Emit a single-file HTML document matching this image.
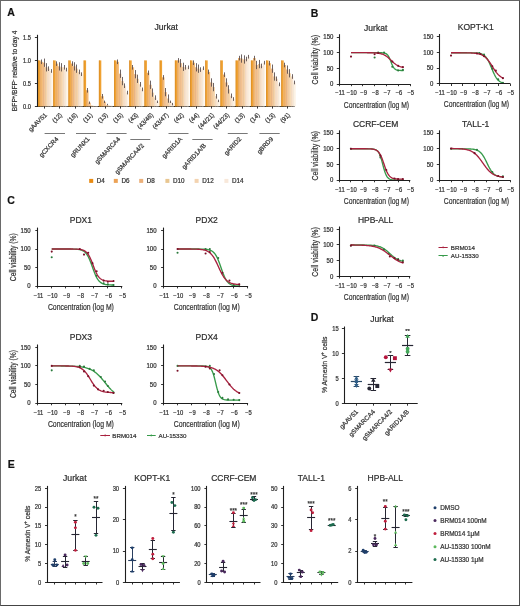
<!DOCTYPE html>
<html><head><meta charset="utf-8"><style>
html,body{margin:0;padding:0;background:#fff;}
#f{position:relative;width:520px;height:606px;overflow:hidden;background:#fff;}
svg{position:absolute;left:0;top:0;font-family:"Liberation Sans",sans-serif;will-change:transform;}
text{stroke:#333;stroke-width:0.22px;}
#b{position:absolute;left:0;top:0;width:518px;height:604px;border:1px solid;border-color:#666 #4d4d4d #444 #6a6a6a;}
</style></head><body><div id="f">
<svg width="520" height="606" viewBox="0 0 520 606">
<text x="7.30" y="15.80" font-size="10.5" text-anchor="start" font-weight="bold" fill="#111">A</text>
<text x="310.80" y="16.60" font-size="10.5" text-anchor="start" font-weight="bold" fill="#111">B</text>
<text x="7.30" y="204.00" font-size="10.5" text-anchor="start" font-weight="bold" fill="#111">C</text>
<text x="310.80" y="321.00" font-size="10.5" text-anchor="start" font-weight="bold" fill="#111">D</text>
<text x="7.80" y="467.50" font-size="10.5" text-anchor="start" font-weight="bold" fill="#111">E</text>
<text x="166.20" y="29.80" font-size="8.5" text-anchor="middle" fill="#2b2b2b" textLength="23.60" lengthAdjust="spacingAndGlyphs">Jurkat</text>
<line x1="37.50" y1="34.80" x2="37.50" y2="106.90" stroke="#1e1e1e" stroke-width="1.1"/>
<line x1="36.80" y1="106.50" x2="294.70" y2="106.50" stroke="#1e1e1e" stroke-width="1.1"/>
<line x1="34.90" y1="37.50" x2="37.30" y2="37.50" stroke="#1e1e1e" stroke-width="0.9"/>
<text x="30.90" y="39.60" font-size="6.3" text-anchor="end" fill="#333" textLength="7.88" lengthAdjust="spacingAndGlyphs">1.5</text>
<line x1="34.90" y1="60.50" x2="37.30" y2="60.50" stroke="#1e1e1e" stroke-width="0.9"/>
<text x="30.90" y="62.60" font-size="6.3" text-anchor="end" fill="#333" textLength="7.88" lengthAdjust="spacingAndGlyphs">1.0</text>
<line x1="34.90" y1="83.50" x2="37.30" y2="83.50" stroke="#1e1e1e" stroke-width="0.9"/>
<text x="30.90" y="85.60" font-size="6.3" text-anchor="end" fill="#333" textLength="7.88" lengthAdjust="spacingAndGlyphs">0.5</text>
<line x1="34.90" y1="106.50" x2="37.30" y2="106.50" stroke="#1e1e1e" stroke-width="0.9"/>
<text x="30.90" y="108.60" font-size="6.3" text-anchor="end" fill="#333" textLength="7.88" lengthAdjust="spacingAndGlyphs">0.0</text>
<text transform="translate(17.0 70.9) rotate(-90)" font-size="7.5" text-anchor="middle" fill="#333" textLength="80.5" lengthAdjust="spacingAndGlyphs">BFP<tspan font-size="4.5" dy="-2.5">+</tspan><tspan dy="2.5">/BFP</tspan><tspan font-size="4.5" dy="-2.5">-</tspan><tspan dy="2.5"> relative to day 4</tspan></text>
<rect x="38.10" y="60.40" width="2.40" height="46.00" fill="#f0a232"/>
<rect x="38.10" y="60.40" width="0.60" height="46.00" fill="#d4841a"/>
<rect x="40.50" y="61.78" width="2.40" height="44.62" fill="#f3b872"/>
<rect x="40.50" y="61.78" width="0.60" height="44.62" fill="#e09a50"/>
<rect x="42.90" y="62.70" width="2.40" height="43.70" fill="#f4c594"/>
<rect x="42.90" y="62.70" width="0.60" height="43.70" fill="#e0a878"/>
<rect x="45.30" y="67.30" width="2.40" height="39.10" fill="#f6d5ac"/>
<rect x="45.30" y="67.30" width="0.60" height="39.10" fill="#e4bc90"/>
<rect x="47.70" y="68.68" width="2.40" height="37.72" fill="#f9e4cf"/>
<rect x="47.70" y="68.68" width="0.60" height="37.72" fill="#ecd2ba"/>
<rect x="50.10" y="70.98" width="2.40" height="35.42" fill="#fdf2e4"/>
<rect x="50.10" y="70.98" width="0.60" height="35.42" fill="#f0e2d0"/>
<line x1="41.50" y1="59.48" x2="41.50" y2="64.08" stroke="#554848" stroke-width="0.85"/>
<line x1="44.50" y1="58.56" x2="44.50" y2="66.84" stroke="#554848" stroke-width="0.85"/>
<line x1="46.50" y1="63.16" x2="46.50" y2="71.44" stroke="#554848" stroke-width="0.85"/>
<line x1="48.50" y1="66.38" x2="48.50" y2="70.98" stroke="#554848" stroke-width="0.85"/>
<line x1="51.50" y1="69.14" x2="51.50" y2="72.82" stroke="#554848" stroke-width="0.85"/>
<line x1="44.50" y1="106.40" x2="44.50" y2="108.60" stroke="#1e1e1e" stroke-width="0.9"/>
<rect x="53.30" y="60.40" width="2.40" height="46.00" fill="#f0a232"/>
<rect x="53.30" y="60.40" width="0.60" height="46.00" fill="#d4841a"/>
<rect x="55.70" y="63.62" width="2.40" height="42.78" fill="#f3b872"/>
<rect x="55.70" y="63.62" width="0.60" height="42.78" fill="#e09a50"/>
<rect x="58.10" y="66.38" width="2.40" height="40.02" fill="#f4c594"/>
<rect x="58.10" y="66.38" width="0.60" height="40.02" fill="#e0a878"/>
<rect x="60.50" y="67.30" width="2.40" height="39.10" fill="#f6d5ac"/>
<rect x="60.50" y="67.30" width="0.60" height="39.10" fill="#e4bc90"/>
<rect x="62.90" y="67.30" width="2.40" height="39.10" fill="#f9e4cf"/>
<rect x="62.90" y="67.30" width="0.60" height="39.10" fill="#ecd2ba"/>
<rect x="65.30" y="69.60" width="2.40" height="36.80" fill="#fdf2e4"/>
<rect x="65.30" y="69.60" width="0.60" height="36.80" fill="#f0e2d0"/>
<line x1="56.50" y1="61.32" x2="56.50" y2="65.92" stroke="#554848" stroke-width="0.85"/>
<line x1="59.50" y1="62.24" x2="59.50" y2="70.52" stroke="#554848" stroke-width="0.85"/>
<line x1="61.50" y1="63.16" x2="61.50" y2="71.44" stroke="#554848" stroke-width="0.85"/>
<line x1="64.50" y1="65.00" x2="64.50" y2="69.60" stroke="#554848" stroke-width="0.85"/>
<line x1="66.50" y1="67.76" x2="66.50" y2="71.44" stroke="#554848" stroke-width="0.85"/>
<line x1="59.50" y1="106.40" x2="59.50" y2="108.60" stroke="#1e1e1e" stroke-width="0.9"/>
<rect x="68.50" y="60.40" width="2.40" height="46.00" fill="#f0a232"/>
<rect x="68.50" y="60.40" width="0.60" height="46.00" fill="#d4841a"/>
<rect x="70.90" y="63.62" width="2.40" height="42.78" fill="#f3b872"/>
<rect x="70.90" y="63.62" width="0.60" height="42.78" fill="#e09a50"/>
<rect x="73.30" y="66.38" width="2.40" height="40.02" fill="#f4c594"/>
<rect x="73.30" y="66.38" width="0.60" height="40.02" fill="#e0a878"/>
<rect x="75.70" y="68.68" width="2.40" height="37.72" fill="#f6d5ac"/>
<rect x="75.70" y="68.68" width="0.60" height="37.72" fill="#e4bc90"/>
<rect x="78.10" y="71.90" width="2.40" height="34.50" fill="#f9e4cf"/>
<rect x="78.10" y="71.90" width="0.60" height="34.50" fill="#ecd2ba"/>
<rect x="80.50" y="74.20" width="2.40" height="32.20" fill="#fdf2e4"/>
<rect x="80.50" y="74.20" width="0.60" height="32.20" fill="#f0e2d0"/>
<line x1="72.50" y1="61.32" x2="72.50" y2="65.92" stroke="#554848" stroke-width="0.85"/>
<line x1="74.50" y1="62.24" x2="74.50" y2="70.52" stroke="#554848" stroke-width="0.85"/>
<line x1="76.50" y1="64.54" x2="76.50" y2="72.82" stroke="#554848" stroke-width="0.85"/>
<line x1="79.50" y1="69.60" x2="79.50" y2="74.20" stroke="#554848" stroke-width="0.85"/>
<line x1="81.50" y1="72.36" x2="81.50" y2="76.04" stroke="#554848" stroke-width="0.85"/>
<line x1="75.50" y1="106.40" x2="75.50" y2="108.60" stroke="#1e1e1e" stroke-width="0.9"/>
<rect x="83.70" y="60.40" width="2.40" height="46.00" fill="#f0a232"/>
<rect x="83.70" y="60.40" width="0.60" height="46.00" fill="#d4841a"/>
<rect x="86.10" y="90.30" width="2.40" height="16.10" fill="#f3b872"/>
<rect x="86.10" y="90.30" width="0.60" height="16.10" fill="#e09a50"/>
<rect x="88.50" y="102.72" width="2.40" height="3.68" fill="#f4c594"/>
<rect x="88.50" y="102.72" width="0.60" height="3.68" fill="#e0a878"/>
<rect x="90.90" y="105.48" width="2.40" height="0.92" fill="#f6d5ac"/>
<rect x="90.90" y="105.48" width="0.60" height="0.92" fill="#e4bc90"/>
<rect x="93.30" y="105.94" width="2.40" height="0.46" fill="#f9e4cf"/>
<rect x="93.30" y="105.94" width="0.60" height="0.46" fill="#ecd2ba"/>
<rect x="95.70" y="105.94" width="2.40" height="0.46" fill="#fdf2e4"/>
<rect x="95.70" y="105.94" width="0.60" height="0.46" fill="#f0e2d0"/>
<line x1="87.50" y1="88.00" x2="87.50" y2="92.60" stroke="#554848" stroke-width="0.85"/>
<line x1="89.50" y1="101.52" x2="89.50" y2="103.92" stroke="#554848" stroke-width="0.85"/>
<line x1="90.50" y1="106.40" x2="90.50" y2="108.60" stroke="#1e1e1e" stroke-width="0.9"/>
<rect x="98.90" y="60.40" width="2.40" height="46.00" fill="#f0a232"/>
<rect x="98.90" y="60.40" width="0.60" height="46.00" fill="#d4841a"/>
<rect x="101.30" y="96.28" width="2.40" height="10.12" fill="#f3b872"/>
<rect x="101.30" y="96.28" width="0.60" height="10.12" fill="#e09a50"/>
<rect x="103.70" y="101.80" width="2.40" height="4.60" fill="#f4c594"/>
<rect x="103.70" y="101.80" width="0.60" height="4.60" fill="#e0a878"/>
<rect x="106.10" y="105.02" width="2.40" height="1.38" fill="#f6d5ac"/>
<rect x="106.10" y="105.02" width="0.60" height="1.38" fill="#e4bc90"/>
<rect x="108.50" y="105.48" width="2.40" height="0.92" fill="#f9e4cf"/>
<rect x="108.50" y="105.48" width="0.60" height="0.92" fill="#ecd2ba"/>
<rect x="110.90" y="105.48" width="2.40" height="0.92" fill="#fdf2e4"/>
<rect x="110.90" y="105.48" width="0.60" height="0.92" fill="#f0e2d0"/>
<line x1="102.50" y1="93.98" x2="102.50" y2="98.58" stroke="#554848" stroke-width="0.85"/>
<line x1="104.50" y1="100.60" x2="104.50" y2="103.00" stroke="#554848" stroke-width="0.85"/>
<line x1="107.50" y1="103.82" x2="107.50" y2="105.40" stroke="#554848" stroke-width="0.85"/>
<line x1="105.50" y1="106.40" x2="105.50" y2="108.60" stroke="#1e1e1e" stroke-width="0.9"/>
<rect x="114.10" y="60.40" width="2.40" height="46.00" fill="#f0a232"/>
<rect x="114.10" y="60.40" width="0.60" height="46.00" fill="#d4841a"/>
<rect x="116.50" y="61.78" width="2.40" height="44.62" fill="#f3b872"/>
<rect x="116.50" y="61.78" width="0.60" height="44.62" fill="#e09a50"/>
<rect x="118.90" y="73.74" width="2.40" height="32.66" fill="#f4c594"/>
<rect x="118.90" y="73.74" width="0.60" height="32.66" fill="#e0a878"/>
<rect x="121.30" y="81.10" width="2.40" height="25.30" fill="#f6d5ac"/>
<rect x="121.30" y="81.10" width="0.60" height="25.30" fill="#e4bc90"/>
<rect x="123.70" y="85.70" width="2.40" height="20.70" fill="#f9e4cf"/>
<rect x="123.70" y="85.70" width="0.60" height="20.70" fill="#ecd2ba"/>
<rect x="126.10" y="92.60" width="2.40" height="13.80" fill="#fdf2e4"/>
<rect x="126.10" y="92.60" width="0.60" height="13.80" fill="#f0e2d0"/>
<line x1="117.50" y1="59.48" x2="117.50" y2="64.08" stroke="#554848" stroke-width="0.85"/>
<line x1="120.50" y1="69.60" x2="120.50" y2="77.88" stroke="#554848" stroke-width="0.85"/>
<line x1="122.50" y1="76.96" x2="122.50" y2="85.24" stroke="#554848" stroke-width="0.85"/>
<line x1="124.50" y1="83.40" x2="124.50" y2="88.00" stroke="#554848" stroke-width="0.85"/>
<line x1="127.50" y1="90.76" x2="127.50" y2="94.44" stroke="#554848" stroke-width="0.85"/>
<line x1="120.50" y1="106.40" x2="120.50" y2="108.60" stroke="#1e1e1e" stroke-width="0.9"/>
<rect x="129.30" y="60.40" width="2.40" height="46.00" fill="#f0a232"/>
<rect x="129.30" y="60.40" width="0.60" height="46.00" fill="#d4841a"/>
<rect x="131.70" y="67.30" width="2.40" height="39.10" fill="#f3b872"/>
<rect x="131.70" y="67.30" width="0.60" height="39.10" fill="#e09a50"/>
<rect x="134.10" y="74.20" width="2.40" height="32.20" fill="#f4c594"/>
<rect x="134.10" y="74.20" width="0.60" height="32.20" fill="#e0a878"/>
<rect x="136.50" y="78.80" width="2.40" height="27.60" fill="#f6d5ac"/>
<rect x="136.50" y="78.80" width="0.60" height="27.60" fill="#e4bc90"/>
<rect x="138.90" y="84.32" width="2.40" height="22.08" fill="#f9e4cf"/>
<rect x="138.90" y="84.32" width="0.60" height="22.08" fill="#ecd2ba"/>
<rect x="141.30" y="89.38" width="2.40" height="17.02" fill="#fdf2e4"/>
<rect x="141.30" y="89.38" width="0.60" height="17.02" fill="#f0e2d0"/>
<line x1="132.50" y1="65.00" x2="132.50" y2="69.60" stroke="#554848" stroke-width="0.85"/>
<line x1="135.50" y1="70.06" x2="135.50" y2="78.34" stroke="#554848" stroke-width="0.85"/>
<line x1="137.50" y1="74.66" x2="137.50" y2="82.94" stroke="#554848" stroke-width="0.85"/>
<line x1="140.50" y1="82.02" x2="140.50" y2="86.62" stroke="#554848" stroke-width="0.85"/>
<line x1="142.50" y1="87.54" x2="142.50" y2="91.22" stroke="#554848" stroke-width="0.85"/>
<line x1="135.50" y1="106.40" x2="135.50" y2="108.60" stroke="#1e1e1e" stroke-width="0.9"/>
<rect x="144.50" y="60.40" width="2.40" height="46.00" fill="#f0a232"/>
<rect x="144.50" y="60.40" width="0.60" height="46.00" fill="#d4841a"/>
<rect x="146.90" y="72.82" width="2.40" height="33.58" fill="#f3b872"/>
<rect x="146.90" y="72.82" width="0.60" height="33.58" fill="#e09a50"/>
<rect x="149.30" y="84.78" width="2.40" height="21.62" fill="#f4c594"/>
<rect x="149.30" y="84.78" width="0.60" height="21.62" fill="#e0a878"/>
<rect x="151.70" y="92.60" width="2.40" height="13.80" fill="#f6d5ac"/>
<rect x="151.70" y="92.60" width="0.60" height="13.80" fill="#e4bc90"/>
<rect x="154.10" y="97.66" width="2.40" height="8.74" fill="#f9e4cf"/>
<rect x="154.10" y="97.66" width="0.60" height="8.74" fill="#ecd2ba"/>
<rect x="156.50" y="101.80" width="2.40" height="4.60" fill="#fdf2e4"/>
<rect x="156.50" y="101.80" width="0.60" height="4.60" fill="#f0e2d0"/>
<line x1="148.50" y1="70.52" x2="148.50" y2="75.12" stroke="#554848" stroke-width="0.85"/>
<line x1="150.50" y1="80.64" x2="150.50" y2="88.92" stroke="#554848" stroke-width="0.85"/>
<line x1="152.50" y1="88.46" x2="152.50" y2="96.74" stroke="#554848" stroke-width="0.85"/>
<line x1="155.50" y1="95.36" x2="155.50" y2="99.96" stroke="#554848" stroke-width="0.85"/>
<line x1="157.50" y1="100.60" x2="157.50" y2="103.00" stroke="#554848" stroke-width="0.85"/>
<line x1="151.50" y1="106.40" x2="151.50" y2="108.60" stroke="#1e1e1e" stroke-width="0.9"/>
<rect x="159.70" y="60.40" width="2.40" height="46.00" fill="#f0a232"/>
<rect x="159.70" y="60.40" width="0.60" height="46.00" fill="#d4841a"/>
<rect x="162.10" y="77.42" width="2.40" height="28.98" fill="#f3b872"/>
<rect x="162.10" y="77.42" width="0.60" height="28.98" fill="#e09a50"/>
<rect x="164.50" y="92.14" width="2.40" height="14.26" fill="#f4c594"/>
<rect x="164.50" y="92.14" width="0.60" height="14.26" fill="#e0a878"/>
<rect x="166.90" y="98.58" width="2.40" height="7.82" fill="#f6d5ac"/>
<rect x="166.90" y="98.58" width="0.60" height="7.82" fill="#e4bc90"/>
<rect x="169.30" y="101.80" width="2.40" height="4.60" fill="#f9e4cf"/>
<rect x="169.30" y="101.80" width="0.60" height="4.60" fill="#ecd2ba"/>
<rect x="171.70" y="104.10" width="2.40" height="2.30" fill="#fdf2e4"/>
<rect x="171.70" y="104.10" width="0.60" height="2.30" fill="#f0e2d0"/>
<line x1="163.50" y1="75.12" x2="163.50" y2="79.72" stroke="#554848" stroke-width="0.85"/>
<line x1="165.50" y1="88.00" x2="165.50" y2="96.28" stroke="#554848" stroke-width="0.85"/>
<line x1="168.50" y1="94.44" x2="168.50" y2="102.72" stroke="#554848" stroke-width="0.85"/>
<line x1="170.50" y1="100.60" x2="170.50" y2="103.00" stroke="#554848" stroke-width="0.85"/>
<line x1="172.50" y1="102.90" x2="172.50" y2="105.30" stroke="#554848" stroke-width="0.85"/>
<line x1="166.50" y1="106.40" x2="166.50" y2="108.60" stroke="#1e1e1e" stroke-width="0.9"/>
<rect x="174.90" y="60.40" width="2.40" height="46.00" fill="#f0a232"/>
<rect x="174.90" y="60.40" width="0.60" height="46.00" fill="#d4841a"/>
<rect x="177.30" y="60.40" width="2.40" height="46.00" fill="#f3b872"/>
<rect x="177.30" y="60.40" width="0.60" height="46.00" fill="#e09a50"/>
<rect x="179.70" y="63.16" width="2.40" height="43.24" fill="#f4c594"/>
<rect x="179.70" y="63.16" width="0.60" height="43.24" fill="#e0a878"/>
<rect x="182.10" y="66.84" width="2.40" height="39.56" fill="#f6d5ac"/>
<rect x="182.10" y="66.84" width="0.60" height="39.56" fill="#e4bc90"/>
<rect x="184.50" y="67.30" width="2.40" height="39.10" fill="#f9e4cf"/>
<rect x="184.50" y="67.30" width="0.60" height="39.10" fill="#ecd2ba"/>
<rect x="186.90" y="67.30" width="2.40" height="39.10" fill="#fdf2e4"/>
<rect x="186.90" y="67.30" width="0.60" height="39.10" fill="#f0e2d0"/>
<line x1="178.50" y1="58.10" x2="178.50" y2="62.70" stroke="#554848" stroke-width="0.85"/>
<line x1="180.50" y1="59.02" x2="180.50" y2="67.30" stroke="#554848" stroke-width="0.85"/>
<line x1="183.50" y1="62.70" x2="183.50" y2="70.98" stroke="#554848" stroke-width="0.85"/>
<line x1="185.50" y1="65.00" x2="185.50" y2="69.60" stroke="#554848" stroke-width="0.85"/>
<line x1="188.50" y1="65.46" x2="188.50" y2="69.14" stroke="#554848" stroke-width="0.85"/>
<line x1="181.50" y1="106.40" x2="181.50" y2="108.60" stroke="#1e1e1e" stroke-width="0.9"/>
<rect x="190.10" y="60.40" width="2.40" height="46.00" fill="#f0a232"/>
<rect x="190.10" y="60.40" width="0.60" height="46.00" fill="#d4841a"/>
<rect x="192.50" y="62.70" width="2.40" height="43.70" fill="#f3b872"/>
<rect x="192.50" y="62.70" width="0.60" height="43.70" fill="#e09a50"/>
<rect x="194.90" y="67.30" width="2.40" height="39.10" fill="#f4c594"/>
<rect x="194.90" y="67.30" width="0.60" height="39.10" fill="#e0a878"/>
<rect x="197.30" y="68.68" width="2.40" height="37.72" fill="#f6d5ac"/>
<rect x="197.30" y="68.68" width="0.60" height="37.72" fill="#e4bc90"/>
<rect x="199.70" y="69.60" width="2.40" height="36.80" fill="#f9e4cf"/>
<rect x="199.70" y="69.60" width="0.60" height="36.80" fill="#ecd2ba"/>
<rect x="202.10" y="68.22" width="2.40" height="38.18" fill="#fdf2e4"/>
<rect x="202.10" y="68.22" width="0.60" height="38.18" fill="#f0e2d0"/>
<line x1="193.50" y1="60.40" x2="193.50" y2="65.00" stroke="#554848" stroke-width="0.85"/>
<line x1="196.50" y1="63.16" x2="196.50" y2="71.44" stroke="#554848" stroke-width="0.85"/>
<line x1="198.50" y1="64.54" x2="198.50" y2="72.82" stroke="#554848" stroke-width="0.85"/>
<line x1="200.50" y1="67.30" x2="200.50" y2="71.90" stroke="#554848" stroke-width="0.85"/>
<line x1="203.50" y1="66.38" x2="203.50" y2="70.06" stroke="#554848" stroke-width="0.85"/>
<line x1="196.50" y1="106.40" x2="196.50" y2="108.60" stroke="#1e1e1e" stroke-width="0.9"/>
<rect x="205.30" y="60.40" width="2.40" height="46.00" fill="#f0a232"/>
<rect x="205.30" y="60.40" width="0.60" height="46.00" fill="#d4841a"/>
<rect x="207.70" y="71.90" width="2.40" height="34.50" fill="#f3b872"/>
<rect x="207.70" y="71.90" width="0.60" height="34.50" fill="#e09a50"/>
<rect x="210.10" y="82.48" width="2.40" height="23.92" fill="#f4c594"/>
<rect x="210.10" y="82.48" width="0.60" height="23.92" fill="#e0a878"/>
<rect x="212.50" y="87.08" width="2.40" height="19.32" fill="#f6d5ac"/>
<rect x="212.50" y="87.08" width="0.60" height="19.32" fill="#e4bc90"/>
<rect x="214.90" y="96.28" width="2.40" height="10.12" fill="#f9e4cf"/>
<rect x="214.90" y="96.28" width="0.60" height="10.12" fill="#ecd2ba"/>
<rect x="217.30" y="100.88" width="2.40" height="5.52" fill="#fdf2e4"/>
<rect x="217.30" y="100.88" width="0.60" height="5.52" fill="#f0e2d0"/>
<line x1="208.50" y1="69.60" x2="208.50" y2="74.20" stroke="#554848" stroke-width="0.85"/>
<line x1="211.50" y1="78.34" x2="211.50" y2="86.62" stroke="#554848" stroke-width="0.85"/>
<line x1="213.50" y1="82.94" x2="213.50" y2="91.22" stroke="#554848" stroke-width="0.85"/>
<line x1="216.50" y1="93.98" x2="216.50" y2="98.58" stroke="#554848" stroke-width="0.85"/>
<line x1="218.50" y1="99.68" x2="218.50" y2="102.08" stroke="#554848" stroke-width="0.85"/>
<line x1="211.50" y1="106.40" x2="211.50" y2="108.60" stroke="#1e1e1e" stroke-width="0.9"/>
<rect x="220.50" y="60.40" width="2.40" height="46.00" fill="#f0a232"/>
<rect x="220.50" y="60.40" width="0.60" height="46.00" fill="#d4841a"/>
<rect x="222.90" y="74.66" width="2.40" height="31.74" fill="#f3b872"/>
<rect x="222.90" y="74.66" width="0.60" height="31.74" fill="#e09a50"/>
<rect x="225.30" y="82.48" width="2.40" height="23.92" fill="#f4c594"/>
<rect x="225.30" y="82.48" width="0.60" height="23.92" fill="#e0a878"/>
<rect x="227.70" y="89.38" width="2.40" height="17.02" fill="#f6d5ac"/>
<rect x="227.70" y="89.38" width="0.60" height="17.02" fill="#e4bc90"/>
<rect x="230.10" y="95.82" width="2.40" height="10.58" fill="#f9e4cf"/>
<rect x="230.10" y="95.82" width="0.60" height="10.58" fill="#ecd2ba"/>
<rect x="232.50" y="99.04" width="2.40" height="7.36" fill="#fdf2e4"/>
<rect x="232.50" y="99.04" width="0.60" height="7.36" fill="#f0e2d0"/>
<line x1="224.50" y1="72.36" x2="224.50" y2="76.96" stroke="#554848" stroke-width="0.85"/>
<line x1="226.50" y1="78.34" x2="226.50" y2="86.62" stroke="#554848" stroke-width="0.85"/>
<line x1="228.50" y1="85.24" x2="228.50" y2="93.52" stroke="#554848" stroke-width="0.85"/>
<line x1="231.50" y1="93.52" x2="231.50" y2="98.12" stroke="#554848" stroke-width="0.85"/>
<line x1="233.50" y1="97.20" x2="233.50" y2="100.88" stroke="#554848" stroke-width="0.85"/>
<line x1="226.50" y1="106.40" x2="226.50" y2="108.60" stroke="#1e1e1e" stroke-width="0.9"/>
<rect x="235.70" y="60.40" width="2.40" height="46.00" fill="#f0a232"/>
<rect x="235.70" y="60.40" width="0.60" height="46.00" fill="#d4841a"/>
<rect x="238.10" y="58.10" width="2.40" height="48.30" fill="#f3b872"/>
<rect x="238.10" y="58.10" width="0.60" height="48.30" fill="#e09a50"/>
<rect x="240.50" y="58.56" width="2.40" height="47.84" fill="#f4c594"/>
<rect x="240.50" y="58.56" width="0.60" height="47.84" fill="#e0a878"/>
<rect x="242.90" y="59.48" width="2.40" height="46.92" fill="#f6d5ac"/>
<rect x="242.90" y="59.48" width="0.60" height="46.92" fill="#e4bc90"/>
<rect x="245.30" y="59.02" width="2.40" height="47.38" fill="#f9e4cf"/>
<rect x="245.30" y="59.02" width="0.60" height="47.38" fill="#ecd2ba"/>
<rect x="247.70" y="56.72" width="2.40" height="49.68" fill="#fdf2e4"/>
<rect x="247.70" y="56.72" width="0.60" height="49.68" fill="#f0e2d0"/>
<line x1="239.50" y1="55.80" x2="239.50" y2="60.40" stroke="#554848" stroke-width="0.85"/>
<line x1="241.50" y1="54.42" x2="241.50" y2="62.70" stroke="#554848" stroke-width="0.85"/>
<line x1="244.50" y1="55.34" x2="244.50" y2="63.62" stroke="#554848" stroke-width="0.85"/>
<line x1="246.50" y1="56.72" x2="246.50" y2="61.32" stroke="#554848" stroke-width="0.85"/>
<line x1="248.50" y1="54.88" x2="248.50" y2="58.56" stroke="#554848" stroke-width="0.85"/>
<line x1="242.50" y1="106.40" x2="242.50" y2="108.60" stroke="#1e1e1e" stroke-width="0.9"/>
<rect x="250.90" y="60.40" width="2.40" height="46.00" fill="#f0a232"/>
<rect x="250.90" y="60.40" width="0.60" height="46.00" fill="#d4841a"/>
<rect x="253.30" y="58.10" width="2.40" height="48.30" fill="#f3b872"/>
<rect x="253.30" y="58.10" width="0.60" height="48.30" fill="#e09a50"/>
<rect x="255.70" y="65.00" width="2.40" height="41.40" fill="#f4c594"/>
<rect x="255.70" y="65.00" width="0.60" height="41.40" fill="#e0a878"/>
<rect x="258.10" y="64.08" width="2.40" height="42.32" fill="#f6d5ac"/>
<rect x="258.10" y="64.08" width="0.60" height="42.32" fill="#e4bc90"/>
<rect x="260.50" y="65.92" width="2.40" height="40.48" fill="#f9e4cf"/>
<rect x="260.50" y="65.92" width="0.60" height="40.48" fill="#ecd2ba"/>
<rect x="262.90" y="62.70" width="2.40" height="43.70" fill="#fdf2e4"/>
<rect x="262.90" y="62.70" width="0.60" height="43.70" fill="#f0e2d0"/>
<line x1="254.50" y1="55.80" x2="254.50" y2="60.40" stroke="#554848" stroke-width="0.85"/>
<line x1="256.50" y1="60.86" x2="256.50" y2="69.14" stroke="#554848" stroke-width="0.85"/>
<line x1="259.50" y1="59.94" x2="259.50" y2="68.22" stroke="#554848" stroke-width="0.85"/>
<line x1="261.50" y1="63.62" x2="261.50" y2="68.22" stroke="#554848" stroke-width="0.85"/>
<line x1="264.50" y1="60.86" x2="264.50" y2="64.54" stroke="#554848" stroke-width="0.85"/>
<line x1="257.50" y1="106.40" x2="257.50" y2="108.60" stroke="#1e1e1e" stroke-width="0.9"/>
<rect x="266.10" y="60.40" width="2.40" height="46.00" fill="#f0a232"/>
<rect x="266.10" y="60.40" width="0.60" height="46.00" fill="#d4841a"/>
<rect x="268.50" y="63.16" width="2.40" height="43.24" fill="#f3b872"/>
<rect x="268.50" y="63.16" width="0.60" height="43.24" fill="#e09a50"/>
<rect x="270.90" y="68.68" width="2.40" height="37.72" fill="#f4c594"/>
<rect x="270.90" y="68.68" width="0.60" height="37.72" fill="#e0a878"/>
<rect x="273.30" y="76.50" width="2.40" height="29.90" fill="#f6d5ac"/>
<rect x="273.30" y="76.50" width="0.60" height="29.90" fill="#e4bc90"/>
<rect x="275.70" y="78.80" width="2.40" height="27.60" fill="#f9e4cf"/>
<rect x="275.70" y="78.80" width="0.60" height="27.60" fill="#ecd2ba"/>
<rect x="278.10" y="84.32" width="2.40" height="22.08" fill="#fdf2e4"/>
<rect x="278.10" y="84.32" width="0.60" height="22.08" fill="#f0e2d0"/>
<line x1="269.50" y1="60.86" x2="269.50" y2="65.46" stroke="#554848" stroke-width="0.85"/>
<line x1="272.50" y1="64.54" x2="272.50" y2="72.82" stroke="#554848" stroke-width="0.85"/>
<line x1="274.50" y1="72.36" x2="274.50" y2="80.64" stroke="#554848" stroke-width="0.85"/>
<line x1="276.50" y1="76.50" x2="276.50" y2="81.10" stroke="#554848" stroke-width="0.85"/>
<line x1="279.50" y1="82.48" x2="279.50" y2="86.16" stroke="#554848" stroke-width="0.85"/>
<line x1="272.50" y1="106.40" x2="272.50" y2="108.60" stroke="#1e1e1e" stroke-width="0.9"/>
<rect x="281.30" y="60.40" width="2.40" height="46.00" fill="#f0a232"/>
<rect x="281.30" y="60.40" width="0.60" height="46.00" fill="#d4841a"/>
<rect x="283.70" y="65.00" width="2.40" height="41.40" fill="#f3b872"/>
<rect x="283.70" y="65.00" width="0.60" height="41.40" fill="#e09a50"/>
<rect x="286.10" y="69.60" width="2.40" height="36.80" fill="#f4c594"/>
<rect x="286.10" y="69.60" width="0.60" height="36.80" fill="#e0a878"/>
<rect x="288.50" y="73.28" width="2.40" height="33.12" fill="#f6d5ac"/>
<rect x="288.50" y="73.28" width="0.60" height="33.12" fill="#e4bc90"/>
<rect x="290.90" y="76.50" width="2.40" height="29.90" fill="#f9e4cf"/>
<rect x="290.90" y="76.50" width="0.60" height="29.90" fill="#ecd2ba"/>
<rect x="293.30" y="82.48" width="2.40" height="23.92" fill="#fdf2e4"/>
<rect x="293.30" y="82.48" width="0.60" height="23.92" fill="#f0e2d0"/>
<line x1="284.50" y1="62.70" x2="284.50" y2="67.30" stroke="#554848" stroke-width="0.85"/>
<line x1="287.50" y1="65.46" x2="287.50" y2="73.74" stroke="#554848" stroke-width="0.85"/>
<line x1="289.50" y1="69.14" x2="289.50" y2="77.42" stroke="#554848" stroke-width="0.85"/>
<line x1="292.50" y1="74.20" x2="292.50" y2="78.80" stroke="#554848" stroke-width="0.85"/>
<line x1="294.50" y1="80.64" x2="294.50" y2="84.32" stroke="#554848" stroke-width="0.85"/>
<line x1="287.50" y1="106.40" x2="287.50" y2="108.60" stroke="#1e1e1e" stroke-width="0.9"/>
<text x="47.40" y="115.40" font-size="6.3" text-anchor="end" fill="#333" transform="rotate(-45 47.40 115.40)">gAAVS1</text>
<text x="62.60" y="115.40" font-size="6.3" text-anchor="end" fill="#333" transform="rotate(-45 62.60 115.40)">(12)</text>
<text x="77.80" y="115.40" font-size="6.3" text-anchor="end" fill="#333" transform="rotate(-45 77.80 115.40)">(16)</text>
<text x="93.00" y="115.40" font-size="6.3" text-anchor="end" fill="#333" transform="rotate(-45 93.00 115.40)">(11)</text>
<text x="108.20" y="115.40" font-size="6.3" text-anchor="end" fill="#333" transform="rotate(-45 108.20 115.40)">(13)</text>
<text x="123.40" y="115.40" font-size="6.3" text-anchor="end" fill="#333" transform="rotate(-45 123.40 115.40)">(15)</text>
<text x="138.60" y="115.40" font-size="6.3" text-anchor="end" fill="#333" transform="rotate(-45 138.60 115.40)">(43)</text>
<text x="153.80" y="115.40" font-size="6.3" text-anchor="end" fill="#333" transform="rotate(-45 153.80 115.40)">(43/46)</text>
<text x="169.00" y="115.40" font-size="6.3" text-anchor="end" fill="#333" transform="rotate(-45 169.00 115.40)">(43/47)</text>
<text x="184.20" y="115.40" font-size="6.3" text-anchor="end" fill="#333" transform="rotate(-45 184.20 115.40)">(42)</text>
<text x="199.40" y="115.40" font-size="6.3" text-anchor="end" fill="#333" transform="rotate(-45 199.40 115.40)">(44)</text>
<text x="214.60" y="115.40" font-size="6.3" text-anchor="end" fill="#333" transform="rotate(-45 214.60 115.40)">(44/21)</text>
<text x="229.80" y="115.40" font-size="6.3" text-anchor="end" fill="#333" transform="rotate(-45 229.80 115.40)">(44/23)</text>
<text x="245.00" y="115.40" font-size="6.3" text-anchor="end" fill="#333" transform="rotate(-45 245.00 115.40)">(13)</text>
<text x="260.20" y="115.40" font-size="6.3" text-anchor="end" fill="#333" transform="rotate(-45 260.20 115.40)">(14)</text>
<text x="275.40" y="115.40" font-size="6.3" text-anchor="end" fill="#333" transform="rotate(-45 275.40 115.40)">(13)</text>
<text x="290.60" y="115.40" font-size="6.3" text-anchor="end" fill="#333" transform="rotate(-45 290.60 115.40)">(91)</text>
<line x1="44.60" y1="133.50" x2="65.00" y2="133.50" stroke="#555" stroke-width="0.8"/>
<text x="58.80" y="139.40" font-size="6.3" text-anchor="end" fill="#333" transform="rotate(-47 58.80 139.40)">gCXCR4</text>
<line x1="76.00" y1="133.50" x2="96.00" y2="133.50" stroke="#555" stroke-width="0.8"/>
<text x="90.00" y="139.40" font-size="6.3" text-anchor="end" fill="#333" transform="rotate(-47 90.00 139.40)">gRUNX1</text>
<line x1="106.60" y1="133.50" x2="126.60" y2="133.50" stroke="#555" stroke-width="0.8"/>
<text x="120.60" y="139.40" font-size="6.3" text-anchor="end" fill="#333" transform="rotate(-47 120.60 139.40)">gSMARCA4</text>
<line x1="130.30" y1="139.50" x2="150.30" y2="139.50" stroke="#555" stroke-width="0.8"/>
<text x="144.30" y="145.90" font-size="6.3" text-anchor="end" fill="#333" transform="rotate(-47 144.30 145.90)">gSMARCA4/2</text>
<line x1="168.50" y1="133.50" x2="188.50" y2="133.50" stroke="#555" stroke-width="0.8"/>
<text x="182.50" y="139.40" font-size="6.3" text-anchor="end" fill="#333" transform="rotate(-47 182.50 139.40)">gARID1A</text>
<line x1="192.30" y1="139.50" x2="212.60" y2="139.50" stroke="#555" stroke-width="0.8"/>
<text x="206.45" y="145.90" font-size="6.3" text-anchor="end" fill="#333" transform="rotate(-47 206.45 145.90)">gARID1A/B</text>
<line x1="227.80" y1="133.50" x2="247.70" y2="133.50" stroke="#555" stroke-width="0.8"/>
<text x="241.75" y="139.40" font-size="6.3" text-anchor="end" fill="#333" transform="rotate(-47 241.75 139.40)">gARID2</text>
<line x1="259.40" y1="133.50" x2="279.70" y2="133.50" stroke="#555" stroke-width="0.8"/>
<text x="273.55" y="139.40" font-size="6.3" text-anchor="end" fill="#333" transform="rotate(-47 273.55 139.40)">gBRD9</text>
<rect x="89.20" y="178.90" width="4.00" height="4.00" fill="#e98b12"/>
<text x="96.80" y="182.80" font-size="6.3" text-anchor="start" fill="#333">D4</text>
<rect x="113.80" y="178.90" width="4.00" height="4.00" fill="#eca256"/>
<text x="121.40" y="182.80" font-size="6.3" text-anchor="start" fill="#333">D6</text>
<rect x="139.20" y="178.90" width="4.00" height="4.00" fill="#ebb07a"/>
<text x="146.80" y="182.80" font-size="6.3" text-anchor="start" fill="#333">D8</text>
<rect x="165.40" y="178.90" width="4.00" height="4.00" fill="#e8c690"/>
<text x="173.00" y="182.80" font-size="6.3" text-anchor="start" fill="#333">D10</text>
<rect x="194.60" y="178.90" width="4.00" height="4.00" fill="#f3d3b0"/>
<text x="202.20" y="182.80" font-size="6.3" text-anchor="start" fill="#333">D12</text>
<rect x="224.40" y="178.90" width="4.00" height="4.00" fill="#f8e8da"/>
<text x="232.00" y="182.80" font-size="6.3" text-anchor="start" fill="#333">D14</text>
<path d="M351.00,52.67 L351.66,52.67 L352.31,52.67 L352.97,52.67 L353.63,52.67 L354.28,52.67 L354.94,52.67 L355.59,52.67 L356.25,52.67 L356.91,52.67 L357.56,52.67 L358.22,52.67 L358.88,52.67 L359.53,52.67 L360.19,52.67 L360.85,52.67 L361.50,52.67 L362.16,52.67 L362.81,52.67 L363.47,52.67 L364.13,52.67 L364.78,52.67 L365.44,52.67 L366.10,52.67 L366.75,52.67 L367.41,52.67 L368.07,52.67 L368.72,52.67 L369.38,52.67 L370.03,52.67 L370.69,52.67 L371.35,52.67 L372.00,52.67 L372.66,52.67 L373.32,52.67 L373.97,52.67 L374.63,52.67 L375.29,52.67 L375.94,52.67 L376.60,52.67 L377.25,52.67 L377.91,52.68 L378.57,52.68 L379.22,52.69 L379.88,52.70 L380.54,52.71 L381.19,52.73 L381.85,52.76 L382.51,52.80 L383.16,52.86 L383.82,52.95 L384.48,53.08 L385.13,53.26 L385.79,53.53 L386.44,53.90 L387.10,54.42 L387.76,55.13 L388.41,56.07 L389.07,57.26 L389.73,58.68 L390.38,60.30 L391.04,62.00 L391.70,63.68 L392.35,65.21 L393.01,66.53 L393.66,67.59 L394.32,68.42 L394.98,69.04 L395.63,69.48 L396.29,69.80 L396.95,70.03 L397.60,70.18 L398.26,70.29 L398.92,70.37 L399.57,70.42 L400.23,70.45 L400.88,70.48 L401.54,70.49 L402.20,70.50 L402.85,70.51 L403.51,70.52" stroke="#379a4a" stroke-width="1.35" fill="none" stroke-linejoin="round" stroke-linecap="butt"/>
<circle cx="374.60" cy="57.52" r="1.05" fill="#2a7a3c"/>
<circle cx="378.14" cy="52.67" r="1.05" fill="#2a7a3c"/>
<circle cx="384.04" cy="52.67" r="1.05" fill="#2a7a3c"/>
<circle cx="392.30" cy="66.77" r="1.05" fill="#2a7a3c"/>
<circle cx="398.20" cy="70.53" r="1.05" fill="#2a7a3c"/>
<circle cx="402.92" cy="69.90" r="1.05" fill="#2a7a3c"/>
<path d="M351.00,52.67 L351.66,52.67 L352.31,52.67 L352.97,52.67 L353.63,52.67 L354.28,52.67 L354.94,52.67 L355.59,52.67 L356.25,52.67 L356.91,52.67 L357.56,52.67 L358.22,52.67 L358.88,52.67 L359.53,52.67 L360.19,52.67 L360.85,52.67 L361.50,52.68 L362.16,52.68 L362.81,52.68 L363.47,52.68 L364.13,52.68 L364.78,52.69 L365.44,52.69 L366.10,52.69 L366.75,52.70 L367.41,52.70 L368.07,52.71 L368.72,52.72 L369.38,52.73 L370.03,52.74 L370.69,52.75 L371.35,52.77 L372.00,52.79 L372.66,52.81 L373.32,52.83 L373.97,52.86 L374.63,52.90 L375.29,52.94 L375.94,52.99 L376.60,53.04 L377.25,53.11 L377.91,53.19 L378.57,53.28 L379.22,53.38 L379.88,53.51 L380.54,53.65 L381.19,53.81 L381.85,54.00 L382.51,54.22 L383.16,54.47 L383.82,54.75 L384.48,55.07 L385.13,55.42 L385.79,55.82 L386.44,56.26 L387.10,56.74 L387.76,57.25 L388.41,57.81 L389.07,58.39 L389.73,59.00 L390.38,59.63 L391.04,60.26 L391.70,60.90 L392.35,61.53 L393.01,62.15 L393.66,62.74 L394.32,63.30 L394.98,63.83 L395.63,64.31 L396.29,64.76 L396.95,65.17 L397.60,65.53 L398.26,65.86 L398.92,66.15 L399.57,66.41 L400.23,66.63 L400.88,66.83 L401.54,67.00 L402.20,67.15 L402.85,67.28 L403.51,67.38" stroke="#a8223f" stroke-width="1.35" fill="none" stroke-linejoin="round" stroke-linecap="butt"/>
<circle cx="351.00" cy="56.58" r="1.05" fill="#7a1028"/>
<circle cx="374.60" cy="54.23" r="1.05" fill="#7a1028"/>
<circle cx="378.14" cy="52.98" r="1.05" fill="#7a1028"/>
<circle cx="392.30" cy="61.44" r="1.05" fill="#7a1028"/>
<circle cx="398.20" cy="65.83" r="1.05" fill="#7a1028"/>
<circle cx="402.92" cy="67.08" r="1.05" fill="#7a1028"/>
<line x1="339.50" y1="34.20" x2="339.50" y2="84.50" stroke="#1e1e1e" stroke-width="1.1"/>
<line x1="338.70" y1="84.50" x2="410.40" y2="84.50" stroke="#1e1e1e" stroke-width="1.1"/>
<line x1="336.80" y1="84.50" x2="339.20" y2="84.50" stroke="#1e1e1e" stroke-width="0.9"/>
<text x="333.40" y="86.20" font-size="6.3" text-anchor="end" fill="#333" textLength="3.36" lengthAdjust="spacingAndGlyphs">0</text>
<line x1="336.80" y1="68.50" x2="339.20" y2="68.50" stroke="#1e1e1e" stroke-width="0.9"/>
<text x="333.40" y="70.53" font-size="6.3" text-anchor="end" fill="#333" textLength="6.73" lengthAdjust="spacingAndGlyphs">50</text>
<line x1="336.80" y1="52.50" x2="339.20" y2="52.50" stroke="#1e1e1e" stroke-width="0.9"/>
<text x="333.40" y="54.87" font-size="6.3" text-anchor="end" fill="#333" textLength="10.09" lengthAdjust="spacingAndGlyphs">100</text>
<line x1="336.80" y1="37.50" x2="339.20" y2="37.50" stroke="#1e1e1e" stroke-width="0.9"/>
<text x="333.40" y="39.20" font-size="6.3" text-anchor="end" fill="#333" textLength="10.09" lengthAdjust="spacingAndGlyphs">150</text>
<line x1="339.50" y1="84.00" x2="339.50" y2="86.20" stroke="#1e1e1e" stroke-width="0.9"/>
<line x1="351.50" y1="84.00" x2="351.50" y2="86.20" stroke="#1e1e1e" stroke-width="0.9"/>
<line x1="362.50" y1="84.00" x2="362.50" y2="86.20" stroke="#1e1e1e" stroke-width="0.9"/>
<line x1="374.50" y1="84.00" x2="374.50" y2="86.20" stroke="#1e1e1e" stroke-width="0.9"/>
<line x1="386.50" y1="84.00" x2="386.50" y2="86.20" stroke="#1e1e1e" stroke-width="0.9"/>
<line x1="398.50" y1="84.00" x2="398.50" y2="86.20" stroke="#1e1e1e" stroke-width="0.9"/>
<line x1="410.50" y1="84.00" x2="410.50" y2="86.20" stroke="#1e1e1e" stroke-width="0.9"/>
<text x="375.70" y="30.50" font-size="8.5" text-anchor="middle" fill="#2b2b2b">Jurkat</text>
<text x="340.00" y="95.40" font-size="6.3" text-anchor="middle" fill="#333" textLength="9.50" lengthAdjust="spacingAndGlyphs">−11</text>
<text x="351.80" y="95.40" font-size="6.3" text-anchor="middle" fill="#333" textLength="9.94" lengthAdjust="spacingAndGlyphs">−10</text>
<text x="363.60" y="95.40" font-size="6.3" text-anchor="middle" fill="#333" textLength="6.68" lengthAdjust="spacingAndGlyphs">−9</text>
<text x="375.40" y="95.40" font-size="6.3" text-anchor="middle" fill="#333" textLength="6.68" lengthAdjust="spacingAndGlyphs">−8</text>
<text x="387.20" y="95.40" font-size="6.3" text-anchor="middle" fill="#333" textLength="6.68" lengthAdjust="spacingAndGlyphs">−7</text>
<text x="399.00" y="95.40" font-size="6.3" text-anchor="middle" fill="#333" textLength="6.68" lengthAdjust="spacingAndGlyphs">−6</text>
<text x="410.80" y="95.40" font-size="6.3" text-anchor="middle" fill="#333" textLength="6.68" lengthAdjust="spacingAndGlyphs">−5</text>
<text x="376.50" y="107.60" font-size="9.4" text-anchor="middle" fill="#333" textLength="65.30" lengthAdjust="spacingAndGlyphs">Concentration (log M)</text>
<text transform="translate(318.40 59.70) rotate(-90)" font-size="9.2" text-anchor="middle" fill="#333" textLength="49.5" lengthAdjust="spacingAndGlyphs">Cell viability (%)</text>
<path d="M451.00,52.78 L451.66,52.78 L452.31,52.78 L452.97,52.78 L453.63,52.78 L454.28,52.78 L454.94,52.78 L455.59,52.78 L456.25,52.78 L456.91,52.78 L457.56,52.78 L458.22,52.78 L458.88,52.78 L459.53,52.78 L460.19,52.78 L460.85,52.78 L461.50,52.78 L462.16,52.78 L462.81,52.78 L463.47,52.78 L464.13,52.79 L464.78,52.79 L465.44,52.79 L466.10,52.79 L466.75,52.79 L467.41,52.80 L468.07,52.80 L468.72,52.80 L469.38,52.81 L470.03,52.82 L470.69,52.82 L471.35,52.83 L472.00,52.85 L472.66,52.86 L473.32,52.88 L473.97,52.90 L474.63,52.93 L475.29,52.96 L475.94,53.00 L476.60,53.05 L477.25,53.12 L477.91,53.19 L478.57,53.28 L479.22,53.40 L479.88,53.53 L480.54,53.70 L481.19,53.90 L481.85,54.14 L482.51,54.44 L483.16,54.79 L483.82,55.21 L484.48,55.71 L485.13,56.31 L485.79,57.00 L486.44,57.80 L487.10,58.73 L487.76,59.77 L488.41,60.95 L489.07,62.24 L489.73,63.63 L490.38,65.12 L491.04,66.67 L491.70,68.25 L492.35,69.84 L493.01,71.39 L493.66,72.88 L494.32,74.28 L494.98,75.58 L495.63,76.76 L496.29,77.81 L496.95,78.74 L497.60,79.55 L498.26,80.25 L498.92,80.84 L499.57,81.35 L500.23,81.77 L500.88,82.13 L501.54,82.42 L502.20,82.67 L502.85,82.87 L503.51,83.04" stroke="#379a4a" stroke-width="1.35" fill="none" stroke-linejoin="round" stroke-linecap="butt"/>
<circle cx="479.32" cy="53.09" r="1.05" fill="#2a7a3c"/>
<circle cx="484.04" cy="54.66" r="1.05" fill="#2a7a3c"/>
<circle cx="492.30" cy="68.76" r="1.05" fill="#2a7a3c"/>
<circle cx="498.20" cy="79.41" r="1.05" fill="#2a7a3c"/>
<circle cx="502.92" cy="82.86" r="1.05" fill="#2a7a3c"/>
<path d="M451.00,52.78 L451.66,52.78 L452.31,52.78 L452.97,52.78 L453.63,52.78 L454.28,52.78 L454.94,52.78 L455.59,52.79 L456.25,52.79 L456.91,52.79 L457.56,52.79 L458.22,52.79 L458.88,52.79 L459.53,52.79 L460.19,52.79 L460.85,52.80 L461.50,52.80 L462.16,52.80 L462.81,52.81 L463.47,52.81 L464.13,52.82 L464.78,52.82 L465.44,52.83 L466.10,52.84 L466.75,52.85 L467.41,52.86 L468.07,52.87 L468.72,52.89 L469.38,52.91 L470.03,52.93 L470.69,52.95 L471.35,52.98 L472.00,53.01 L472.66,53.05 L473.32,53.10 L473.97,53.15 L474.63,53.21 L475.29,53.28 L475.94,53.36 L476.60,53.45 L477.25,53.56 L477.91,53.69 L478.57,53.83 L479.22,54.00 L479.88,54.19 L480.54,54.41 L481.19,54.66 L481.85,54.95 L482.51,55.28 L483.16,55.65 L483.82,56.07 L484.48,56.54 L485.13,57.07 L485.79,57.65 L486.44,58.30 L487.10,59.01 L487.76,59.77 L488.41,60.60 L489.07,61.49 L489.73,62.42 L490.38,63.40 L491.04,64.41 L491.70,65.45 L492.35,66.49 L493.01,67.54 L493.66,68.57 L494.32,69.58 L494.98,70.55 L495.63,71.48 L496.29,72.35 L496.95,73.17 L497.60,73.93 L498.26,74.63 L498.92,75.26 L499.57,75.84 L500.23,76.36 L500.88,76.82 L501.54,77.23 L502.20,77.60 L502.85,77.92 L503.51,78.20" stroke="#a8223f" stroke-width="1.35" fill="none" stroke-linejoin="round" stroke-linecap="butt"/>
<circle cx="451.00" cy="55.60" r="1.05" fill="#7a1028"/>
<circle cx="476.96" cy="53.41" r="1.05" fill="#7a1028"/>
<circle cx="480.50" cy="54.03" r="1.05" fill="#7a1028"/>
<circle cx="484.04" cy="56.23" r="1.05" fill="#7a1028"/>
<circle cx="492.30" cy="66.25" r="1.05" fill="#7a1028"/>
<circle cx="495.84" cy="70.64" r="1.05" fill="#7a1028"/>
<circle cx="502.92" cy="78.16" r="1.05" fill="#7a1028"/>
<line x1="439.50" y1="34.00" x2="439.50" y2="84.30" stroke="#1e1e1e" stroke-width="1.1"/>
<line x1="438.70" y1="83.50" x2="510.40" y2="83.50" stroke="#1e1e1e" stroke-width="1.1"/>
<line x1="436.80" y1="83.50" x2="439.20" y2="83.50" stroke="#1e1e1e" stroke-width="0.9"/>
<text x="433.40" y="86.00" font-size="6.3" text-anchor="end" fill="#333" textLength="3.36" lengthAdjust="spacingAndGlyphs">0</text>
<line x1="436.80" y1="68.50" x2="439.20" y2="68.50" stroke="#1e1e1e" stroke-width="0.9"/>
<text x="433.40" y="70.33" font-size="6.3" text-anchor="end" fill="#333" textLength="6.73" lengthAdjust="spacingAndGlyphs">50</text>
<line x1="436.80" y1="52.50" x2="439.20" y2="52.50" stroke="#1e1e1e" stroke-width="0.9"/>
<text x="433.40" y="54.67" font-size="6.3" text-anchor="end" fill="#333" textLength="10.09" lengthAdjust="spacingAndGlyphs">100</text>
<line x1="436.80" y1="36.50" x2="439.20" y2="36.50" stroke="#1e1e1e" stroke-width="0.9"/>
<text x="433.40" y="39.00" font-size="6.3" text-anchor="end" fill="#333" textLength="10.09" lengthAdjust="spacingAndGlyphs">150</text>
<line x1="439.50" y1="83.80" x2="439.50" y2="86.00" stroke="#1e1e1e" stroke-width="0.9"/>
<line x1="451.50" y1="83.80" x2="451.50" y2="86.00" stroke="#1e1e1e" stroke-width="0.9"/>
<line x1="462.50" y1="83.80" x2="462.50" y2="86.00" stroke="#1e1e1e" stroke-width="0.9"/>
<line x1="474.50" y1="83.80" x2="474.50" y2="86.00" stroke="#1e1e1e" stroke-width="0.9"/>
<line x1="486.50" y1="83.80" x2="486.50" y2="86.00" stroke="#1e1e1e" stroke-width="0.9"/>
<line x1="498.50" y1="83.80" x2="498.50" y2="86.00" stroke="#1e1e1e" stroke-width="0.9"/>
<line x1="510.50" y1="83.80" x2="510.50" y2="86.00" stroke="#1e1e1e" stroke-width="0.9"/>
<text x="475.70" y="30.30" font-size="8.5" text-anchor="middle" fill="#2b2b2b">KOPT-K1</text>
<text x="440.00" y="95.20" font-size="6.3" text-anchor="middle" fill="#333" textLength="9.50" lengthAdjust="spacingAndGlyphs">−11</text>
<text x="451.80" y="95.20" font-size="6.3" text-anchor="middle" fill="#333" textLength="9.94" lengthAdjust="spacingAndGlyphs">−10</text>
<text x="463.60" y="95.20" font-size="6.3" text-anchor="middle" fill="#333" textLength="6.68" lengthAdjust="spacingAndGlyphs">−9</text>
<text x="475.40" y="95.20" font-size="6.3" text-anchor="middle" fill="#333" textLength="6.68" lengthAdjust="spacingAndGlyphs">−8</text>
<text x="487.20" y="95.20" font-size="6.3" text-anchor="middle" fill="#333" textLength="6.68" lengthAdjust="spacingAndGlyphs">−7</text>
<text x="499.00" y="95.20" font-size="6.3" text-anchor="middle" fill="#333" textLength="6.68" lengthAdjust="spacingAndGlyphs">−6</text>
<text x="510.80" y="95.20" font-size="6.3" text-anchor="middle" fill="#333" textLength="6.68" lengthAdjust="spacingAndGlyphs">−5</text>
<text x="476.50" y="107.40" font-size="9.4" text-anchor="middle" fill="#333" textLength="65.30" lengthAdjust="spacingAndGlyphs">Concentration (log M)</text>
<path d="M350.90,148.77 L351.56,148.77 L352.21,148.77 L352.87,148.77 L353.53,148.77 L354.18,148.77 L354.84,148.77 L355.49,148.77 L356.15,148.77 L356.81,148.77 L357.46,148.77 L358.12,148.77 L358.78,148.77 L359.43,148.77 L360.09,148.77 L360.75,148.77 L361.40,148.77 L362.06,148.77 L362.71,148.77 L363.37,148.77 L364.03,148.77 L364.68,148.77 L365.34,148.77 L366.00,148.78 L366.65,148.78 L367.31,148.78 L367.97,148.79 L368.62,148.80 L369.28,148.81 L369.93,148.83 L370.59,148.85 L371.25,148.88 L371.90,148.92 L372.56,148.98 L373.22,149.06 L373.87,149.17 L374.53,149.32 L375.19,149.53 L375.84,149.80 L376.50,150.18 L377.16,150.68 L377.81,151.34 L378.47,152.20 L379.12,153.31 L379.78,154.70 L380.44,156.40 L381.09,158.39 L381.75,160.65 L382.41,163.08 L383.06,165.59 L383.72,168.03 L384.38,170.30 L385.03,172.32 L385.69,174.04 L386.34,175.46 L387.00,176.59 L387.66,177.47 L388.31,178.14 L388.97,178.65 L389.63,179.04 L390.28,179.32 L390.94,179.53 L391.60,179.68 L392.25,179.80 L392.91,179.88 L393.56,179.94 L394.22,179.98 L394.88,180.02 L395.53,180.04 L396.19,180.06 L396.85,180.07 L397.50,180.08 L398.16,180.08 L398.82,180.09 L399.47,180.09 L400.13,180.09 L400.78,180.10 L401.44,180.10 L402.10,180.10 L402.75,180.10 L403.41,180.10" stroke="#379a4a" stroke-width="1.35" fill="none" stroke-linejoin="round" stroke-linecap="butt"/>
<circle cx="350.90" cy="148.77" r="1.05" fill="#2a7a3c"/>
<circle cx="380.40" cy="157.54" r="1.05" fill="#2a7a3c"/>
<circle cx="398.10" cy="180.10" r="1.05" fill="#2a7a3c"/>
<path d="M350.90,148.77 L351.56,148.77 L352.21,148.77 L352.87,148.77 L353.53,148.77 L354.18,148.77 L354.84,148.77 L355.49,148.77 L356.15,148.77 L356.81,148.77 L357.46,148.77 L358.12,148.77 L358.78,148.77 L359.43,148.77 L360.09,148.77 L360.75,148.77 L361.40,148.77 L362.06,148.77 L362.71,148.77 L363.37,148.78 L364.03,148.78 L364.68,148.78 L365.34,148.79 L366.00,148.79 L366.65,148.80 L367.31,148.81 L367.97,148.83 L368.62,148.84 L369.28,148.87 L369.93,148.89 L370.59,148.93 L371.25,148.98 L371.90,149.04 L372.56,149.12 L373.22,149.22 L373.87,149.35 L374.53,149.52 L375.19,149.73 L375.84,150.00 L376.50,150.35 L377.16,150.78 L377.81,151.31 L378.47,151.98 L379.12,152.79 L379.78,153.77 L380.44,154.94 L381.09,156.29 L381.75,157.84 L382.41,159.55 L383.06,161.39 L383.72,163.31 L384.38,165.25 L385.03,167.15 L385.69,168.95 L386.34,170.61 L387.00,172.09 L387.66,173.39 L388.31,174.49 L388.97,175.42 L389.63,176.18 L390.28,176.80 L390.94,177.30 L391.60,177.70 L392.25,178.02 L392.91,178.27 L393.56,178.47 L394.22,178.62 L394.88,178.74 L395.53,178.83 L396.19,178.91 L396.85,178.96 L397.50,179.01 L398.16,179.04 L398.82,179.07 L399.47,179.09 L400.13,179.11 L400.78,179.12 L401.44,179.13 L402.10,179.13 L402.75,179.14 L403.41,179.14" stroke="#a8223f" stroke-width="1.35" fill="none" stroke-linejoin="round" stroke-linecap="butt"/>
<circle cx="350.90" cy="148.77" r="1.05" fill="#7a1028"/>
<circle cx="380.40" cy="155.66" r="1.05" fill="#7a1028"/>
<circle cx="386.30" cy="170.07" r="1.05" fill="#7a1028"/>
<circle cx="394.56" cy="178.53" r="1.05" fill="#7a1028"/>
<circle cx="398.10" cy="179.16" r="1.05" fill="#7a1028"/>
<circle cx="402.82" cy="179.16" r="1.05" fill="#7a1028"/>
<line x1="339.50" y1="130.30" x2="339.50" y2="180.60" stroke="#1e1e1e" stroke-width="1.1"/>
<line x1="338.60" y1="180.50" x2="410.30" y2="180.50" stroke="#1e1e1e" stroke-width="1.1"/>
<line x1="336.70" y1="180.50" x2="339.10" y2="180.50" stroke="#1e1e1e" stroke-width="0.9"/>
<text x="333.30" y="182.30" font-size="6.3" text-anchor="end" fill="#333" textLength="3.36" lengthAdjust="spacingAndGlyphs">0</text>
<line x1="336.70" y1="164.50" x2="339.10" y2="164.50" stroke="#1e1e1e" stroke-width="0.9"/>
<text x="333.30" y="166.63" font-size="6.3" text-anchor="end" fill="#333" textLength="6.73" lengthAdjust="spacingAndGlyphs">50</text>
<line x1="336.70" y1="148.50" x2="339.10" y2="148.50" stroke="#1e1e1e" stroke-width="0.9"/>
<text x="333.30" y="150.97" font-size="6.3" text-anchor="end" fill="#333" textLength="10.09" lengthAdjust="spacingAndGlyphs">100</text>
<line x1="336.70" y1="133.50" x2="339.10" y2="133.50" stroke="#1e1e1e" stroke-width="0.9"/>
<text x="333.30" y="135.30" font-size="6.3" text-anchor="end" fill="#333" textLength="10.09" lengthAdjust="spacingAndGlyphs">150</text>
<line x1="339.50" y1="180.10" x2="339.50" y2="182.30" stroke="#1e1e1e" stroke-width="0.9"/>
<line x1="350.50" y1="180.10" x2="350.50" y2="182.30" stroke="#1e1e1e" stroke-width="0.9"/>
<line x1="362.50" y1="180.10" x2="362.50" y2="182.30" stroke="#1e1e1e" stroke-width="0.9"/>
<line x1="374.50" y1="180.10" x2="374.50" y2="182.30" stroke="#1e1e1e" stroke-width="0.9"/>
<line x1="386.50" y1="180.10" x2="386.50" y2="182.30" stroke="#1e1e1e" stroke-width="0.9"/>
<line x1="398.50" y1="180.10" x2="398.50" y2="182.30" stroke="#1e1e1e" stroke-width="0.9"/>
<line x1="409.50" y1="180.10" x2="409.50" y2="182.30" stroke="#1e1e1e" stroke-width="0.9"/>
<text x="375.60" y="126.60" font-size="8.5" text-anchor="middle" fill="#2b2b2b">CCRF-CEM</text>
<text x="339.90" y="191.50" font-size="6.3" text-anchor="middle" fill="#333" textLength="9.50" lengthAdjust="spacingAndGlyphs">−11</text>
<text x="351.70" y="191.50" font-size="6.3" text-anchor="middle" fill="#333" textLength="9.94" lengthAdjust="spacingAndGlyphs">−10</text>
<text x="363.50" y="191.50" font-size="6.3" text-anchor="middle" fill="#333" textLength="6.68" lengthAdjust="spacingAndGlyphs">−9</text>
<text x="375.30" y="191.50" font-size="6.3" text-anchor="middle" fill="#333" textLength="6.68" lengthAdjust="spacingAndGlyphs">−8</text>
<text x="387.10" y="191.50" font-size="6.3" text-anchor="middle" fill="#333" textLength="6.68" lengthAdjust="spacingAndGlyphs">−7</text>
<text x="398.90" y="191.50" font-size="6.3" text-anchor="middle" fill="#333" textLength="6.68" lengthAdjust="spacingAndGlyphs">−6</text>
<text x="410.70" y="191.50" font-size="6.3" text-anchor="middle" fill="#333" textLength="6.68" lengthAdjust="spacingAndGlyphs">−5</text>
<text x="376.40" y="203.70" font-size="9.4" text-anchor="middle" fill="#333" textLength="65.30" lengthAdjust="spacingAndGlyphs">Concentration (log M)</text>
<text transform="translate(318.30 155.80) rotate(-90)" font-size="9.2" text-anchor="middle" fill="#333" textLength="49.5" lengthAdjust="spacingAndGlyphs">Cell viability (%)</text>
<path d="M451.00,148.77 L451.66,148.77 L452.31,148.77 L452.97,148.77 L453.63,148.77 L454.28,148.77 L454.94,148.77 L455.59,148.77 L456.25,148.77 L456.91,148.77 L457.56,148.77 L458.22,148.77 L458.88,148.77 L459.53,148.78 L460.19,148.78 L460.85,148.78 L461.50,148.78 L462.16,148.79 L462.81,148.79 L463.47,148.80 L464.13,148.80 L464.78,148.81 L465.44,148.82 L466.10,148.83 L466.75,148.84 L467.41,148.86 L468.07,148.88 L468.72,148.90 L469.38,148.93 L470.03,148.96 L470.69,149.01 L471.35,149.06 L472.00,149.12 L472.66,149.19 L473.32,149.28 L473.97,149.38 L474.63,149.51 L475.29,149.66 L475.94,149.85 L476.60,150.07 L477.25,150.33 L477.91,150.64 L478.57,151.00 L479.22,151.43 L479.88,151.93 L480.54,152.51 L481.19,153.18 L481.85,153.95 L482.51,154.81 L483.16,155.78 L483.82,156.84 L484.48,158.00 L485.13,159.24 L485.79,160.54 L486.44,161.89 L487.10,163.25 L487.76,164.62 L488.41,165.95 L489.07,167.23 L489.73,168.45 L490.38,169.57 L491.04,170.60 L491.70,171.54 L492.35,172.37 L493.01,173.10 L493.66,173.74 L494.32,174.29 L494.98,174.77 L495.63,175.18 L496.29,175.52 L496.95,175.81 L497.60,176.06 L498.26,176.26 L498.92,176.44 L499.57,176.58 L500.23,176.70 L500.88,176.80 L501.54,176.88 L502.20,176.95 L502.85,177.01 L503.51,177.06" stroke="#379a4a" stroke-width="1.35" fill="none" stroke-linejoin="round" stroke-linecap="butt"/>
<circle cx="451.00" cy="148.77" r="1.05" fill="#2a7a3c"/>
<circle cx="476.96" cy="149.71" r="1.05" fill="#2a7a3c"/>
<circle cx="492.30" cy="171.95" r="1.05" fill="#2a7a3c"/>
<circle cx="502.92" cy="176.34" r="1.05" fill="#2a7a3c"/>
<path d="M451.00,148.51 L451.66,148.52 L452.31,148.53 L452.97,148.54 L453.63,148.55 L454.28,148.56 L454.94,148.58 L455.59,148.60 L456.25,148.61 L456.91,148.64 L457.56,148.66 L458.22,148.69 L458.88,148.72 L459.53,148.76 L460.19,148.80 L460.85,148.85 L461.50,148.90 L462.16,148.96 L462.81,149.02 L463.47,149.10 L464.13,149.19 L464.78,149.29 L465.44,149.40 L466.10,149.52 L466.75,149.66 L467.41,149.82 L468.07,149.99 L468.72,150.19 L469.38,150.41 L470.03,150.66 L470.69,150.93 L471.35,151.24 L472.00,151.58 L472.66,151.96 L473.32,152.37 L473.97,152.83 L474.63,153.32 L475.29,153.87 L475.94,154.45 L476.60,155.09 L477.25,155.77 L477.91,156.49 L478.57,157.26 L479.22,158.06 L479.88,158.90 L480.54,159.78 L481.19,160.67 L481.85,161.59 L482.51,162.52 L483.16,163.45 L483.82,164.38 L484.48,165.30 L485.13,166.20 L485.79,167.08 L486.44,167.92 L487.10,168.73 L487.76,169.50 L488.41,170.23 L489.07,170.91 L489.73,171.55 L490.38,172.14 L491.04,172.68 L491.70,173.18 L492.35,173.64 L493.01,174.06 L493.66,174.44 L494.32,174.78 L494.98,175.09 L495.63,175.37 L496.29,175.62 L496.95,175.84 L497.60,176.04 L498.26,176.22 L498.92,176.38 L499.57,176.52 L500.23,176.64 L500.88,176.75 L501.54,176.85 L502.20,176.94 L502.85,177.02 L503.51,177.08" stroke="#a8223f" stroke-width="1.35" fill="none" stroke-linejoin="round" stroke-linecap="butt"/>
<circle cx="451.00" cy="148.45" r="1.05" fill="#7a1028"/>
<circle cx="474.60" cy="153.15" r="1.05" fill="#7a1028"/>
<circle cx="498.20" cy="176.03" r="1.05" fill="#7a1028"/>
<circle cx="502.92" cy="176.97" r="1.05" fill="#7a1028"/>
<line x1="439.50" y1="130.30" x2="439.50" y2="180.60" stroke="#1e1e1e" stroke-width="1.1"/>
<line x1="438.70" y1="180.50" x2="510.40" y2="180.50" stroke="#1e1e1e" stroke-width="1.1"/>
<line x1="436.80" y1="180.50" x2="439.20" y2="180.50" stroke="#1e1e1e" stroke-width="0.9"/>
<text x="433.40" y="182.30" font-size="6.3" text-anchor="end" fill="#333" textLength="3.36" lengthAdjust="spacingAndGlyphs">0</text>
<line x1="436.80" y1="164.50" x2="439.20" y2="164.50" stroke="#1e1e1e" stroke-width="0.9"/>
<text x="433.40" y="166.63" font-size="6.3" text-anchor="end" fill="#333" textLength="6.73" lengthAdjust="spacingAndGlyphs">50</text>
<line x1="436.80" y1="148.50" x2="439.20" y2="148.50" stroke="#1e1e1e" stroke-width="0.9"/>
<text x="433.40" y="150.97" font-size="6.3" text-anchor="end" fill="#333" textLength="10.09" lengthAdjust="spacingAndGlyphs">100</text>
<line x1="436.80" y1="133.50" x2="439.20" y2="133.50" stroke="#1e1e1e" stroke-width="0.9"/>
<text x="433.40" y="135.30" font-size="6.3" text-anchor="end" fill="#333" textLength="10.09" lengthAdjust="spacingAndGlyphs">150</text>
<line x1="439.50" y1="180.10" x2="439.50" y2="182.30" stroke="#1e1e1e" stroke-width="0.9"/>
<line x1="451.50" y1="180.10" x2="451.50" y2="182.30" stroke="#1e1e1e" stroke-width="0.9"/>
<line x1="462.50" y1="180.10" x2="462.50" y2="182.30" stroke="#1e1e1e" stroke-width="0.9"/>
<line x1="474.50" y1="180.10" x2="474.50" y2="182.30" stroke="#1e1e1e" stroke-width="0.9"/>
<line x1="486.50" y1="180.10" x2="486.50" y2="182.30" stroke="#1e1e1e" stroke-width="0.9"/>
<line x1="498.50" y1="180.10" x2="498.50" y2="182.30" stroke="#1e1e1e" stroke-width="0.9"/>
<line x1="510.50" y1="180.10" x2="510.50" y2="182.30" stroke="#1e1e1e" stroke-width="0.9"/>
<text x="475.70" y="126.60" font-size="8.5" text-anchor="middle" fill="#2b2b2b">TALL-1</text>
<text x="440.00" y="191.50" font-size="6.3" text-anchor="middle" fill="#333" textLength="9.50" lengthAdjust="spacingAndGlyphs">−11</text>
<text x="451.80" y="191.50" font-size="6.3" text-anchor="middle" fill="#333" textLength="9.94" lengthAdjust="spacingAndGlyphs">−10</text>
<text x="463.60" y="191.50" font-size="6.3" text-anchor="middle" fill="#333" textLength="6.68" lengthAdjust="spacingAndGlyphs">−9</text>
<text x="475.40" y="191.50" font-size="6.3" text-anchor="middle" fill="#333" textLength="6.68" lengthAdjust="spacingAndGlyphs">−8</text>
<text x="487.20" y="191.50" font-size="6.3" text-anchor="middle" fill="#333" textLength="6.68" lengthAdjust="spacingAndGlyphs">−7</text>
<text x="499.00" y="191.50" font-size="6.3" text-anchor="middle" fill="#333" textLength="6.68" lengthAdjust="spacingAndGlyphs">−6</text>
<text x="510.80" y="191.50" font-size="6.3" text-anchor="middle" fill="#333" textLength="6.68" lengthAdjust="spacingAndGlyphs">−5</text>
<text x="476.50" y="203.70" font-size="9.4" text-anchor="middle" fill="#333" textLength="65.30" lengthAdjust="spacingAndGlyphs">Concentration (log M)</text>
<path d="M350.90,244.97 L351.56,244.97 L352.21,244.97 L352.87,244.97 L353.53,244.97 L354.18,244.97 L354.84,244.98 L355.49,244.98 L356.15,244.98 L356.81,244.98 L357.46,244.98 L358.12,244.99 L358.78,244.99 L359.43,244.99 L360.09,245.00 L360.75,245.00 L361.40,245.01 L362.06,245.01 L362.71,245.02 L363.37,245.03 L364.03,245.03 L364.68,245.04 L365.34,245.06 L366.00,245.07 L366.65,245.08 L367.31,245.10 L367.97,245.12 L368.62,245.15 L369.28,245.17 L369.93,245.20 L370.59,245.24 L371.25,245.28 L371.90,245.33 L372.56,245.38 L373.22,245.44 L373.87,245.51 L374.53,245.59 L375.19,245.68 L375.84,245.78 L376.50,245.90 L377.16,246.03 L377.81,246.18 L378.47,246.35 L379.12,246.54 L379.78,246.75 L380.44,246.99 L381.09,247.25 L381.75,247.55 L382.41,247.87 L383.06,248.23 L383.72,248.62 L384.38,249.04 L385.03,249.49 L385.69,249.98 L386.34,250.49 L387.00,251.04 L387.66,251.60 L388.31,252.18 L388.97,252.78 L389.63,253.39 L390.28,253.99 L390.94,254.59 L391.60,255.19 L392.25,255.77 L392.91,256.32 L393.56,256.86 L394.22,257.36 L394.88,257.84 L395.53,258.28 L396.19,258.69 L396.85,259.07 L397.50,259.41 L398.16,259.73 L398.82,260.01 L399.47,260.26 L400.13,260.49 L400.78,260.70 L401.44,260.88 L402.10,261.04 L402.75,261.19 L403.41,261.31" stroke="#379a4a" stroke-width="1.35" fill="none" stroke-linejoin="round" stroke-linecap="butt"/>
<circle cx="350.90" cy="245.59" r="1.05" fill="#2a7a3c"/>
<circle cx="374.50" cy="245.59" r="1.05" fill="#2a7a3c"/>
<circle cx="383.94" cy="249.67" r="1.05" fill="#2a7a3c"/>
<circle cx="388.66" cy="253.74" r="1.05" fill="#2a7a3c"/>
<circle cx="398.10" cy="259.07" r="1.05" fill="#2a7a3c"/>
<circle cx="402.82" cy="260.63" r="1.05" fill="#2a7a3c"/>
<path d="M350.90,245.01 L351.56,245.02 L352.21,245.02 L352.87,245.03 L353.53,245.04 L354.18,245.04 L354.84,245.05 L355.49,245.06 L356.15,245.07 L356.81,245.08 L357.46,245.10 L358.12,245.11 L358.78,245.12 L359.43,245.14 L360.09,245.16 L360.75,245.18 L361.40,245.20 L362.06,245.23 L362.71,245.26 L363.37,245.29 L364.03,245.32 L364.68,245.36 L365.34,245.40 L366.00,245.45 L366.65,245.50 L367.31,245.55 L367.97,245.62 L368.62,245.68 L369.28,245.76 L369.93,245.84 L370.59,245.93 L371.25,246.03 L371.90,246.13 L372.56,246.25 L373.22,246.38 L373.87,246.52 L374.53,246.68 L375.19,246.84 L375.84,247.03 L376.50,247.22 L377.16,247.44 L377.81,247.67 L378.47,247.92 L379.12,248.19 L379.78,248.47 L380.44,248.78 L381.09,249.11 L381.75,249.46 L382.41,249.83 L383.06,250.21 L383.72,250.62 L384.38,251.05 L385.03,251.50 L385.69,251.96 L386.34,252.44 L387.00,252.93 L387.66,253.43 L388.31,253.94 L388.97,254.46 L389.63,254.98 L390.28,255.50 L390.94,256.02 L391.60,256.54 L392.25,257.04 L392.91,257.54 L393.56,258.03 L394.22,258.50 L394.88,258.96 L395.53,259.40 L396.19,259.82 L396.85,260.22 L397.50,260.61 L398.16,260.97 L398.82,261.31 L399.47,261.63 L400.13,261.93 L400.78,262.21 L401.44,262.47 L402.10,262.71 L402.75,262.94 L403.41,263.15" stroke="#a8223f" stroke-width="1.35" fill="none" stroke-linejoin="round" stroke-linecap="butt"/>
<circle cx="350.90" cy="245.59" r="1.05" fill="#7a1028"/>
<circle cx="389.84" cy="256.56" r="1.05" fill="#7a1028"/>
<circle cx="394.56" cy="258.13" r="1.05" fill="#7a1028"/>
<circle cx="398.10" cy="259.69" r="1.05" fill="#7a1028"/>
<circle cx="402.82" cy="262.20" r="1.05" fill="#7a1028"/>
<line x1="339.50" y1="226.50" x2="339.50" y2="276.80" stroke="#1e1e1e" stroke-width="1.1"/>
<line x1="338.60" y1="276.50" x2="410.30" y2="276.50" stroke="#1e1e1e" stroke-width="1.1"/>
<line x1="336.70" y1="276.50" x2="339.10" y2="276.50" stroke="#1e1e1e" stroke-width="0.9"/>
<text x="333.30" y="278.50" font-size="6.3" text-anchor="end" fill="#333" textLength="3.36" lengthAdjust="spacingAndGlyphs">0</text>
<line x1="336.70" y1="260.50" x2="339.10" y2="260.50" stroke="#1e1e1e" stroke-width="0.9"/>
<text x="333.30" y="262.83" font-size="6.3" text-anchor="end" fill="#333" textLength="6.73" lengthAdjust="spacingAndGlyphs">50</text>
<line x1="336.70" y1="244.50" x2="339.10" y2="244.50" stroke="#1e1e1e" stroke-width="0.9"/>
<text x="333.30" y="247.17" font-size="6.3" text-anchor="end" fill="#333" textLength="10.09" lengthAdjust="spacingAndGlyphs">100</text>
<line x1="336.70" y1="229.50" x2="339.10" y2="229.50" stroke="#1e1e1e" stroke-width="0.9"/>
<text x="333.30" y="231.50" font-size="6.3" text-anchor="end" fill="#333" textLength="10.09" lengthAdjust="spacingAndGlyphs">150</text>
<line x1="339.50" y1="276.30" x2="339.50" y2="278.50" stroke="#1e1e1e" stroke-width="0.9"/>
<line x1="350.50" y1="276.30" x2="350.50" y2="278.50" stroke="#1e1e1e" stroke-width="0.9"/>
<line x1="362.50" y1="276.30" x2="362.50" y2="278.50" stroke="#1e1e1e" stroke-width="0.9"/>
<line x1="374.50" y1="276.30" x2="374.50" y2="278.50" stroke="#1e1e1e" stroke-width="0.9"/>
<line x1="386.50" y1="276.30" x2="386.50" y2="278.50" stroke="#1e1e1e" stroke-width="0.9"/>
<line x1="398.50" y1="276.30" x2="398.50" y2="278.50" stroke="#1e1e1e" stroke-width="0.9"/>
<line x1="409.50" y1="276.30" x2="409.50" y2="278.50" stroke="#1e1e1e" stroke-width="0.9"/>
<text x="375.60" y="222.80" font-size="8.5" text-anchor="middle" fill="#2b2b2b">HPB-ALL</text>
<text x="339.90" y="287.70" font-size="6.3" text-anchor="middle" fill="#333" textLength="9.50" lengthAdjust="spacingAndGlyphs">−11</text>
<text x="351.70" y="287.70" font-size="6.3" text-anchor="middle" fill="#333" textLength="9.94" lengthAdjust="spacingAndGlyphs">−10</text>
<text x="363.50" y="287.70" font-size="6.3" text-anchor="middle" fill="#333" textLength="6.68" lengthAdjust="spacingAndGlyphs">−9</text>
<text x="375.30" y="287.70" font-size="6.3" text-anchor="middle" fill="#333" textLength="6.68" lengthAdjust="spacingAndGlyphs">−8</text>
<text x="387.10" y="287.70" font-size="6.3" text-anchor="middle" fill="#333" textLength="6.68" lengthAdjust="spacingAndGlyphs">−7</text>
<text x="398.90" y="287.70" font-size="6.3" text-anchor="middle" fill="#333" textLength="6.68" lengthAdjust="spacingAndGlyphs">−6</text>
<text x="410.70" y="287.70" font-size="6.3" text-anchor="middle" fill="#333" textLength="6.68" lengthAdjust="spacingAndGlyphs">−5</text>
<text x="376.40" y="299.90" font-size="9.4" text-anchor="middle" fill="#333" textLength="65.30" lengthAdjust="spacingAndGlyphs">Concentration (log M)</text>
<text transform="translate(318.30 252.00) rotate(-90)" font-size="9.2" text-anchor="middle" fill="#333" textLength="49.5" lengthAdjust="spacingAndGlyphs">Cell viability (%)</text>
<line x1="438.50" y1="247.50" x2="447.70" y2="247.50" stroke="#a8223f" stroke-width="1.0"/>
<circle cx="443.10" cy="247.30" r="0.9" fill="#a8223f"/>
<text x="450.80" y="249.60" font-size="6.2" text-anchor="start" fill="#333">BRM014</text>
<line x1="438.50" y1="255.50" x2="447.70" y2="255.50" stroke="#379a4a" stroke-width="1.0"/>
<circle cx="443.10" cy="255.80" r="0.9" fill="#379a4a"/>
<text x="450.80" y="258.10" font-size="6.2" text-anchor="start" fill="#333">AU-15330</text>
<path d="M51.73,249.00 L52.51,249.00 L53.29,249.00 L54.07,249.00 L54.85,249.00 L55.63,249.00 L56.41,249.00 L57.19,249.00 L57.97,249.00 L58.75,249.00 L59.53,249.00 L60.31,249.00 L61.10,249.00 L61.88,249.00 L62.66,249.00 L63.44,249.00 L64.22,249.01 L65.00,249.01 L65.78,249.01 L66.56,249.01 L67.34,249.01 L68.12,249.02 L68.90,249.02 L69.68,249.03 L70.46,249.04 L71.24,249.05 L72.02,249.06 L72.80,249.08 L73.58,249.10 L74.36,249.13 L75.14,249.16 L75.92,249.21 L76.70,249.27 L77.48,249.34 L78.26,249.43 L79.04,249.55 L79.83,249.70 L80.61,249.89 L81.39,250.12 L82.17,250.42 L82.95,250.79 L83.73,251.25 L84.51,251.82 L85.29,252.53 L86.07,253.38 L86.85,254.40 L87.63,255.62 L88.41,257.04 L89.19,258.66 L89.97,260.48 L90.75,262.46 L91.53,264.57 L92.31,266.75 L93.09,268.93 L93.87,271.07 L94.65,273.09 L95.43,274.95 L96.21,276.63 L96.99,278.10 L97.77,279.37 L98.56,280.45 L99.34,281.34 L100.12,282.08 L100.90,282.69 L101.68,283.18 L102.46,283.57 L103.24,283.89 L104.02,284.14 L104.80,284.34 L105.58,284.50 L106.36,284.62 L107.14,284.72 L107.92,284.80 L108.70,284.86 L109.48,284.91 L110.26,284.95 L111.04,284.98 L111.82,285.00 L112.60,285.02 L113.38,285.03 L114.16,285.04" stroke="#379a4a" stroke-width="1.35" fill="none" stroke-linejoin="round" stroke-linecap="butt"/>
<circle cx="51.73" cy="257.18" r="1.05" fill="#2a7a3c"/>
<circle cx="96.63" cy="275.78" r="1.05" fill="#2a7a3c"/>
<circle cx="103.64" cy="283.22" r="1.05" fill="#2a7a3c"/>
<circle cx="107.85" cy="284.34" r="1.05" fill="#2a7a3c"/>
<circle cx="113.46" cy="285.08" r="1.05" fill="#2a7a3c"/>
<path d="M51.73,249.00 L52.51,249.00 L53.29,249.00 L54.07,249.00 L54.85,249.00 L55.63,249.00 L56.41,249.00 L57.19,249.00 L57.97,249.00 L58.75,249.00 L59.53,249.00 L60.31,249.00 L61.10,249.00 L61.88,249.00 L62.66,249.00 L63.44,249.00 L64.22,249.00 L65.00,249.00 L65.78,249.00 L66.56,249.01 L67.34,249.01 L68.12,249.01 L68.90,249.01 L69.68,249.01 L70.46,249.02 L71.24,249.02 L72.02,249.03 L72.80,249.04 L73.58,249.05 L74.36,249.07 L75.14,249.09 L75.92,249.11 L76.70,249.15 L77.48,249.19 L78.26,249.25 L79.04,249.32 L79.83,249.41 L80.61,249.52 L81.39,249.67 L82.17,249.87 L82.95,250.11 L83.73,250.42 L84.51,250.81 L85.29,251.30 L86.07,251.91 L86.85,252.67 L87.63,253.58 L88.41,254.69 L89.19,255.99 L89.97,257.49 L90.75,259.19 L91.53,261.06 L92.31,263.05 L93.09,265.11 L93.87,267.17 L94.65,269.17 L95.43,271.05 L96.21,272.76 L96.99,274.28 L97.77,275.60 L98.56,276.71 L99.34,277.64 L100.12,278.41 L100.90,279.03 L101.68,279.52 L102.46,279.92 L103.24,280.24 L104.02,280.48 L104.80,280.68 L105.58,280.83 L106.36,280.95 L107.14,281.04 L107.92,281.11 L108.70,281.17 L109.48,281.21 L110.26,281.25 L111.04,281.27 L111.82,281.29 L112.60,281.31 L113.38,281.32 L114.16,281.33" stroke="#a8223f" stroke-width="1.35" fill="none" stroke-linejoin="round" stroke-linecap="butt"/>
<circle cx="51.73" cy="251.60" r="1.05" fill="#7a1028"/>
<circle cx="79.79" cy="249.00" r="1.05" fill="#7a1028"/>
<circle cx="84.00" cy="254.58" r="1.05" fill="#7a1028"/>
<circle cx="88.21" cy="252.72" r="1.05" fill="#7a1028"/>
<circle cx="92.42" cy="263.14" r="1.05" fill="#7a1028"/>
<circle cx="96.63" cy="271.32" r="1.05" fill="#7a1028"/>
<circle cx="103.64" cy="280.62" r="1.05" fill="#7a1028"/>
<circle cx="107.85" cy="281.74" r="1.05" fill="#7a1028"/>
<circle cx="113.46" cy="280.99" r="1.05" fill="#7a1028"/>
<line x1="37.50" y1="227.60" x2="37.50" y2="286.70" stroke="#1e1e1e" stroke-width="1.1"/>
<line x1="37.20" y1="286.50" x2="122.28" y2="286.50" stroke="#1e1e1e" stroke-width="1.1"/>
<line x1="35.30" y1="286.50" x2="37.70" y2="286.50" stroke="#1e1e1e" stroke-width="0.9"/>
<text x="30.70" y="288.40" font-size="6.3" text-anchor="end" fill="#333" textLength="3.36" lengthAdjust="spacingAndGlyphs">0</text>
<line x1="35.30" y1="267.50" x2="37.70" y2="267.50" stroke="#1e1e1e" stroke-width="0.9"/>
<text x="30.70" y="269.80" font-size="6.3" text-anchor="end" fill="#333" textLength="6.73" lengthAdjust="spacingAndGlyphs">50</text>
<line x1="35.30" y1="249.50" x2="37.70" y2="249.50" stroke="#1e1e1e" stroke-width="0.9"/>
<text x="30.70" y="251.20" font-size="6.3" text-anchor="end" fill="#333" textLength="10.09" lengthAdjust="spacingAndGlyphs">100</text>
<line x1="35.30" y1="230.50" x2="37.70" y2="230.50" stroke="#1e1e1e" stroke-width="0.9"/>
<text x="30.70" y="232.60" font-size="6.3" text-anchor="end" fill="#333" textLength="10.09" lengthAdjust="spacingAndGlyphs">150</text>
<line x1="37.50" y1="286.20" x2="37.50" y2="288.40" stroke="#1e1e1e" stroke-width="0.9"/>
<line x1="51.50" y1="286.20" x2="51.50" y2="288.40" stroke="#1e1e1e" stroke-width="0.9"/>
<line x1="65.50" y1="286.20" x2="65.50" y2="288.40" stroke="#1e1e1e" stroke-width="0.9"/>
<line x1="79.50" y1="286.20" x2="79.50" y2="288.40" stroke="#1e1e1e" stroke-width="0.9"/>
<line x1="93.50" y1="286.20" x2="93.50" y2="288.40" stroke="#1e1e1e" stroke-width="0.9"/>
<line x1="107.50" y1="286.20" x2="107.50" y2="288.40" stroke="#1e1e1e" stroke-width="0.9"/>
<line x1="121.50" y1="286.20" x2="121.50" y2="288.40" stroke="#1e1e1e" stroke-width="0.9"/>
<text x="80.90" y="222.70" font-size="8.5" text-anchor="middle" fill="#2b2b2b">PDX1</text>
<text x="38.50" y="298.20" font-size="6.3" text-anchor="middle" fill="#333" textLength="9.50" lengthAdjust="spacingAndGlyphs">−11</text>
<text x="52.53" y="298.20" font-size="6.3" text-anchor="middle" fill="#333" textLength="9.94" lengthAdjust="spacingAndGlyphs">−10</text>
<text x="66.56" y="298.20" font-size="6.3" text-anchor="middle" fill="#333" textLength="6.68" lengthAdjust="spacingAndGlyphs">−9</text>
<text x="80.59" y="298.20" font-size="6.3" text-anchor="middle" fill="#333" textLength="6.68" lengthAdjust="spacingAndGlyphs">−8</text>
<text x="94.62" y="298.20" font-size="6.3" text-anchor="middle" fill="#333" textLength="6.68" lengthAdjust="spacingAndGlyphs">−7</text>
<text x="108.65" y="298.20" font-size="6.3" text-anchor="middle" fill="#333" textLength="6.68" lengthAdjust="spacingAndGlyphs">−6</text>
<text x="122.68" y="298.20" font-size="6.3" text-anchor="middle" fill="#333" textLength="6.68" lengthAdjust="spacingAndGlyphs">−5</text>
<text x="80.90" y="310.00" font-size="9.4" text-anchor="middle" fill="#333" textLength="66.00" lengthAdjust="spacingAndGlyphs">Concentration (log M)</text>
<text transform="translate(16.20 257.20) rotate(-90)" font-size="9" text-anchor="middle" fill="#333" textLength="48" lengthAdjust="spacingAndGlyphs">Cell viability (%)</text>
<path d="M177.53,249.00 L178.31,249.00 L179.09,249.00 L179.87,249.00 L180.65,249.00 L181.43,249.00 L182.21,249.00 L182.99,249.00 L183.77,249.00 L184.55,249.00 L185.33,249.00 L186.11,249.00 L186.90,249.00 L187.68,249.00 L188.46,249.00 L189.24,249.00 L190.02,249.00 L190.80,249.00 L191.58,249.00 L192.36,249.00 L193.14,249.01 L193.92,249.01 L194.70,249.01 L195.48,249.01 L196.26,249.02 L197.04,249.02 L197.82,249.03 L198.60,249.03 L199.38,249.04 L200.16,249.06 L200.94,249.07 L201.72,249.09 L202.50,249.12 L203.28,249.15 L204.06,249.19 L204.84,249.24 L205.63,249.30 L206.41,249.39 L207.19,249.49 L207.97,249.62 L208.75,249.79 L209.53,250.00 L210.31,250.27 L211.09,250.61 L211.87,251.03 L212.65,251.55 L213.43,252.19 L214.21,252.97 L214.99,253.92 L215.77,255.05 L216.55,256.39 L217.33,257.94 L218.11,259.69 L218.89,261.64 L219.67,263.74 L220.45,265.95 L221.23,268.21 L222.01,270.45 L222.79,272.61 L223.57,274.63 L224.36,276.48 L225.14,278.12 L225.92,279.56 L226.70,280.78 L227.48,281.81 L228.26,282.67 L229.04,283.38 L229.82,283.95 L230.60,284.41 L231.38,284.78 L232.16,285.08 L232.94,285.32 L233.72,285.50 L234.50,285.65 L235.28,285.77 L236.06,285.86 L236.84,285.93 L237.62,285.99 L238.40,286.04 L239.18,286.07 L239.96,286.10" stroke="#379a4a" stroke-width="1.35" fill="none" stroke-linejoin="round" stroke-linecap="butt"/>
<circle cx="177.53" cy="252.72" r="1.05" fill="#2a7a3c"/>
<circle cx="205.59" cy="249.00" r="1.05" fill="#2a7a3c"/>
<circle cx="209.80" cy="249.00" r="1.05" fill="#2a7a3c"/>
<circle cx="218.22" cy="257.93" r="1.05" fill="#2a7a3c"/>
<circle cx="233.65" cy="284.71" r="1.05" fill="#2a7a3c"/>
<circle cx="239.26" cy="286.20" r="1.05" fill="#2a7a3c"/>
<path d="M177.53,249.00 L178.31,249.00 L179.09,249.00 L179.87,249.00 L180.65,249.00 L181.43,249.00 L182.21,249.00 L182.99,249.01 L183.77,249.01 L184.55,249.01 L185.33,249.01 L186.11,249.01 L186.90,249.01 L187.68,249.02 L188.46,249.02 L189.24,249.03 L190.02,249.03 L190.80,249.04 L191.58,249.05 L192.36,249.06 L193.14,249.07 L193.92,249.08 L194.70,249.10 L195.48,249.12 L196.26,249.15 L197.04,249.18 L197.82,249.22 L198.60,249.26 L199.38,249.32 L200.16,249.39 L200.94,249.47 L201.72,249.57 L202.50,249.68 L203.28,249.82 L204.06,249.99 L204.84,250.20 L205.63,250.44 L206.41,250.73 L207.19,251.08 L207.97,251.49 L208.75,251.97 L209.53,252.54 L210.31,253.20 L211.09,253.96 L211.87,254.84 L212.65,255.84 L213.43,256.97 L214.21,258.22 L214.99,259.59 L215.77,261.08 L216.55,262.66 L217.33,264.31 L218.11,266.01 L218.89,267.72 L219.67,269.42 L220.45,271.07 L221.23,272.65 L222.01,274.14 L222.79,275.51 L223.57,276.76 L224.36,277.88 L225.14,278.88 L225.92,279.76 L226.70,280.52 L227.48,281.18 L228.26,281.75 L229.04,282.23 L229.82,282.64 L230.60,282.98 L231.38,283.27 L232.16,283.52 L232.94,283.72 L233.72,283.89 L234.50,284.03 L235.28,284.15 L236.06,284.25 L236.84,284.33 L237.62,284.39 L238.40,284.45 L239.18,284.49 L239.96,284.53" stroke="#a8223f" stroke-width="1.35" fill="none" stroke-linejoin="round" stroke-linecap="butt"/>
<circle cx="177.53" cy="249.00" r="1.05" fill="#7a1028"/>
<circle cx="205.59" cy="253.46" r="1.05" fill="#7a1028"/>
<circle cx="209.80" cy="251.98" r="1.05" fill="#7a1028"/>
<circle cx="222.43" cy="272.81" r="1.05" fill="#7a1028"/>
<circle cx="229.44" cy="280.62" r="1.05" fill="#7a1028"/>
<circle cx="239.26" cy="284.34" r="1.05" fill="#7a1028"/>
<line x1="163.50" y1="227.60" x2="163.50" y2="286.70" stroke="#1e1e1e" stroke-width="1.1"/>
<line x1="163.00" y1="286.50" x2="248.08" y2="286.50" stroke="#1e1e1e" stroke-width="1.1"/>
<line x1="161.10" y1="286.50" x2="163.50" y2="286.50" stroke="#1e1e1e" stroke-width="0.9"/>
<text x="156.50" y="288.40" font-size="6.3" text-anchor="end" fill="#333" textLength="3.36" lengthAdjust="spacingAndGlyphs">0</text>
<line x1="161.10" y1="267.50" x2="163.50" y2="267.50" stroke="#1e1e1e" stroke-width="0.9"/>
<text x="156.50" y="269.80" font-size="6.3" text-anchor="end" fill="#333" textLength="6.73" lengthAdjust="spacingAndGlyphs">50</text>
<line x1="161.10" y1="249.50" x2="163.50" y2="249.50" stroke="#1e1e1e" stroke-width="0.9"/>
<text x="156.50" y="251.20" font-size="6.3" text-anchor="end" fill="#333" textLength="10.09" lengthAdjust="spacingAndGlyphs">100</text>
<line x1="161.10" y1="230.50" x2="163.50" y2="230.50" stroke="#1e1e1e" stroke-width="0.9"/>
<text x="156.50" y="232.60" font-size="6.3" text-anchor="end" fill="#333" textLength="10.09" lengthAdjust="spacingAndGlyphs">150</text>
<line x1="163.50" y1="286.20" x2="163.50" y2="288.40" stroke="#1e1e1e" stroke-width="0.9"/>
<line x1="177.50" y1="286.20" x2="177.50" y2="288.40" stroke="#1e1e1e" stroke-width="0.9"/>
<line x1="191.50" y1="286.20" x2="191.50" y2="288.40" stroke="#1e1e1e" stroke-width="0.9"/>
<line x1="205.50" y1="286.20" x2="205.50" y2="288.40" stroke="#1e1e1e" stroke-width="0.9"/>
<line x1="219.50" y1="286.20" x2="219.50" y2="288.40" stroke="#1e1e1e" stroke-width="0.9"/>
<line x1="233.50" y1="286.20" x2="233.50" y2="288.40" stroke="#1e1e1e" stroke-width="0.9"/>
<line x1="247.50" y1="286.20" x2="247.50" y2="288.40" stroke="#1e1e1e" stroke-width="0.9"/>
<text x="206.70" y="222.70" font-size="8.5" text-anchor="middle" fill="#2b2b2b">PDX2</text>
<text x="164.30" y="298.20" font-size="6.3" text-anchor="middle" fill="#333" textLength="9.50" lengthAdjust="spacingAndGlyphs">−11</text>
<text x="178.33" y="298.20" font-size="6.3" text-anchor="middle" fill="#333" textLength="9.94" lengthAdjust="spacingAndGlyphs">−10</text>
<text x="192.36" y="298.20" font-size="6.3" text-anchor="middle" fill="#333" textLength="6.68" lengthAdjust="spacingAndGlyphs">−9</text>
<text x="206.39" y="298.20" font-size="6.3" text-anchor="middle" fill="#333" textLength="6.68" lengthAdjust="spacingAndGlyphs">−8</text>
<text x="220.42" y="298.20" font-size="6.3" text-anchor="middle" fill="#333" textLength="6.68" lengthAdjust="spacingAndGlyphs">−7</text>
<text x="234.45" y="298.20" font-size="6.3" text-anchor="middle" fill="#333" textLength="6.68" lengthAdjust="spacingAndGlyphs">−6</text>
<text x="248.48" y="298.20" font-size="6.3" text-anchor="middle" fill="#333" textLength="6.68" lengthAdjust="spacingAndGlyphs">−5</text>
<text x="206.70" y="310.00" font-size="9.4" text-anchor="middle" fill="#333" textLength="66.00" lengthAdjust="spacingAndGlyphs">Concentration (log M)</text>
<path d="M51.73,365.91 L52.51,365.91 L53.29,365.92 L54.07,365.92 L54.85,365.92 L55.63,365.92 L56.41,365.93 L57.19,365.93 L57.97,365.93 L58.75,365.94 L59.53,365.94 L60.31,365.95 L61.10,365.95 L61.88,365.96 L62.66,365.96 L63.44,365.97 L64.22,365.98 L65.00,365.99 L65.78,366.00 L66.56,366.01 L67.34,366.03 L68.12,366.04 L68.90,366.06 L69.68,366.08 L70.46,366.10 L71.24,366.13 L72.02,366.15 L72.80,366.18 L73.58,366.22 L74.36,366.26 L75.14,366.30 L75.92,366.35 L76.70,366.40 L77.48,366.46 L78.26,366.53 L79.04,366.60 L79.83,366.69 L80.61,366.78 L81.39,366.89 L82.17,367.00 L82.95,367.13 L83.73,367.28 L84.51,367.44 L85.29,367.62 L86.07,367.81 L86.85,368.03 L87.63,368.28 L88.41,368.54 L89.19,368.84 L89.97,369.16 L90.75,369.52 L91.53,369.91 L92.31,370.33 L93.09,370.79 L93.87,371.29 L94.65,371.84 L95.43,372.42 L96.21,373.05 L96.99,373.72 L97.77,374.43 L98.56,375.18 L99.34,375.97 L100.12,376.80 L100.90,377.67 L101.68,378.56 L102.46,379.48 L103.24,380.42 L104.02,381.37 L104.80,382.34 L105.58,383.30 L106.36,384.26 L107.14,385.21 L107.92,386.14 L108.70,387.05 L109.48,387.94 L110.26,388.79 L111.04,389.61 L111.82,390.38 L112.60,391.12 L113.38,391.82 L114.16,392.47" stroke="#379a4a" stroke-width="1.35" fill="none" stroke-linejoin="round" stroke-linecap="butt"/>
<circle cx="51.73" cy="370.36" r="1.05" fill="#2a7a3c"/>
<circle cx="79.79" cy="365.90" r="1.05" fill="#2a7a3c"/>
<circle cx="84.00" cy="366.64" r="1.05" fill="#2a7a3c"/>
<circle cx="89.61" cy="368.88" r="1.05" fill="#2a7a3c"/>
<circle cx="93.82" cy="370.36" r="1.05" fill="#2a7a3c"/>
<circle cx="100.84" cy="377.06" r="1.05" fill="#2a7a3c"/>
<circle cx="105.04" cy="381.52" r="1.05" fill="#2a7a3c"/>
<circle cx="107.85" cy="385.99" r="1.05" fill="#2a7a3c"/>
<circle cx="113.46" cy="392.68" r="1.05" fill="#2a7a3c"/>
<path d="M51.73,365.90 L52.51,365.90 L53.29,365.90 L54.07,365.90 L54.85,365.90 L55.63,365.91 L56.41,365.91 L57.19,365.91 L57.97,365.91 L58.75,365.91 L59.53,365.91 L60.31,365.92 L61.10,365.92 L61.88,365.92 L62.66,365.93 L63.44,365.94 L64.22,365.94 L65.00,365.95 L65.78,365.96 L66.56,365.98 L67.34,365.99 L68.12,366.01 L68.90,366.04 L69.68,366.07 L70.46,366.10 L71.24,366.14 L72.02,366.19 L72.80,366.25 L73.58,366.33 L74.36,366.42 L75.14,366.52 L75.92,366.65 L76.70,366.81 L77.48,366.99 L78.26,367.21 L79.04,367.47 L79.83,367.78 L80.61,368.15 L81.39,368.58 L82.17,369.08 L82.95,369.66 L83.73,370.32 L84.51,371.08 L85.29,371.93 L86.07,372.87 L86.85,373.90 L87.63,375.02 L88.41,376.21 L89.19,377.45 L89.97,378.73 L90.75,380.01 L91.53,381.29 L92.31,382.52 L93.09,383.70 L93.87,384.81 L94.65,385.84 L95.43,386.77 L96.21,387.61 L96.99,388.35 L97.77,389.00 L98.56,389.57 L99.34,390.06 L100.12,390.48 L100.90,390.84 L101.68,391.15 L102.46,391.40 L103.24,391.62 L104.02,391.80 L104.80,391.95 L105.58,392.07 L106.36,392.18 L107.14,392.27 L107.92,392.34 L108.70,392.40 L109.48,392.45 L110.26,392.49 L111.04,392.52 L111.82,392.55 L112.60,392.57 L113.38,392.59 L114.16,392.61" stroke="#a8223f" stroke-width="1.35" fill="none" stroke-linejoin="round" stroke-linecap="butt"/>
<circle cx="51.73" cy="365.90" r="1.05" fill="#7a1028"/>
<circle cx="79.79" cy="367.02" r="1.05" fill="#7a1028"/>
<circle cx="84.00" cy="371.48" r="1.05" fill="#7a1028"/>
<circle cx="88.21" cy="376.32" r="1.05" fill="#7a1028"/>
<circle cx="93.82" cy="385.62" r="1.05" fill="#7a1028"/>
<circle cx="98.03" cy="389.34" r="1.05" fill="#7a1028"/>
<circle cx="103.64" cy="390.82" r="1.05" fill="#7a1028"/>
<circle cx="107.85" cy="391.94" r="1.05" fill="#7a1028"/>
<circle cx="113.46" cy="393.06" r="1.05" fill="#7a1028"/>
<line x1="37.50" y1="344.50" x2="37.50" y2="403.60" stroke="#1e1e1e" stroke-width="1.1"/>
<line x1="37.20" y1="403.50" x2="122.28" y2="403.50" stroke="#1e1e1e" stroke-width="1.1"/>
<line x1="35.30" y1="403.50" x2="37.70" y2="403.50" stroke="#1e1e1e" stroke-width="0.9"/>
<text x="30.70" y="405.30" font-size="6.3" text-anchor="end" fill="#333" textLength="3.36" lengthAdjust="spacingAndGlyphs">0</text>
<line x1="35.30" y1="384.50" x2="37.70" y2="384.50" stroke="#1e1e1e" stroke-width="0.9"/>
<text x="30.70" y="386.70" font-size="6.3" text-anchor="end" fill="#333" textLength="6.73" lengthAdjust="spacingAndGlyphs">50</text>
<line x1="35.30" y1="365.50" x2="37.70" y2="365.50" stroke="#1e1e1e" stroke-width="0.9"/>
<text x="30.70" y="368.10" font-size="6.3" text-anchor="end" fill="#333" textLength="10.09" lengthAdjust="spacingAndGlyphs">100</text>
<line x1="35.30" y1="347.50" x2="37.70" y2="347.50" stroke="#1e1e1e" stroke-width="0.9"/>
<text x="30.70" y="349.50" font-size="6.3" text-anchor="end" fill="#333" textLength="10.09" lengthAdjust="spacingAndGlyphs">150</text>
<line x1="37.50" y1="403.10" x2="37.50" y2="405.30" stroke="#1e1e1e" stroke-width="0.9"/>
<line x1="51.50" y1="403.10" x2="51.50" y2="405.30" stroke="#1e1e1e" stroke-width="0.9"/>
<line x1="65.50" y1="403.10" x2="65.50" y2="405.30" stroke="#1e1e1e" stroke-width="0.9"/>
<line x1="79.50" y1="403.10" x2="79.50" y2="405.30" stroke="#1e1e1e" stroke-width="0.9"/>
<line x1="93.50" y1="403.10" x2="93.50" y2="405.30" stroke="#1e1e1e" stroke-width="0.9"/>
<line x1="107.50" y1="403.10" x2="107.50" y2="405.30" stroke="#1e1e1e" stroke-width="0.9"/>
<line x1="121.50" y1="403.10" x2="121.50" y2="405.30" stroke="#1e1e1e" stroke-width="0.9"/>
<text x="80.90" y="339.60" font-size="8.5" text-anchor="middle" fill="#2b2b2b">PDX3</text>
<text x="38.50" y="415.10" font-size="6.3" text-anchor="middle" fill="#333" textLength="9.50" lengthAdjust="spacingAndGlyphs">−11</text>
<text x="52.53" y="415.10" font-size="6.3" text-anchor="middle" fill="#333" textLength="9.94" lengthAdjust="spacingAndGlyphs">−10</text>
<text x="66.56" y="415.10" font-size="6.3" text-anchor="middle" fill="#333" textLength="6.68" lengthAdjust="spacingAndGlyphs">−9</text>
<text x="80.59" y="415.10" font-size="6.3" text-anchor="middle" fill="#333" textLength="6.68" lengthAdjust="spacingAndGlyphs">−8</text>
<text x="94.62" y="415.10" font-size="6.3" text-anchor="middle" fill="#333" textLength="6.68" lengthAdjust="spacingAndGlyphs">−7</text>
<text x="108.65" y="415.10" font-size="6.3" text-anchor="middle" fill="#333" textLength="6.68" lengthAdjust="spacingAndGlyphs">−6</text>
<text x="122.68" y="415.10" font-size="6.3" text-anchor="middle" fill="#333" textLength="6.68" lengthAdjust="spacingAndGlyphs">−5</text>
<text x="80.90" y="426.90" font-size="9.4" text-anchor="middle" fill="#333" textLength="66.00" lengthAdjust="spacingAndGlyphs">Concentration (log M)</text>
<text transform="translate(16.20 374.10) rotate(-90)" font-size="9" text-anchor="middle" fill="#333" textLength="48" lengthAdjust="spacingAndGlyphs">Cell viability (%)</text>
<path d="M177.53,365.90 L178.31,365.90 L179.09,365.90 L179.87,365.90 L180.65,365.90 L181.43,365.90 L182.21,365.90 L182.99,365.90 L183.77,365.90 L184.55,365.90 L185.33,365.90 L186.11,365.90 L186.90,365.90 L187.68,365.90 L188.46,365.90 L189.24,365.90 L190.02,365.90 L190.80,365.90 L191.58,365.90 L192.36,365.90 L193.14,365.90 L193.92,365.90 L194.70,365.90 L195.48,365.90 L196.26,365.90 L197.04,365.90 L197.82,365.91 L198.60,365.91 L199.38,365.91 L200.16,365.92 L200.94,365.92 L201.72,365.94 L202.50,365.95 L203.28,365.98 L204.06,366.01 L204.84,366.06 L205.63,366.14 L206.41,366.25 L207.19,366.41 L207.97,366.65 L208.75,366.98 L209.53,367.47 L210.31,368.16 L211.09,369.11 L211.87,370.42 L212.65,372.15 L213.43,374.36 L214.21,377.03 L214.99,380.09 L215.77,383.34 L216.55,386.58 L217.33,389.57 L218.11,392.15 L218.89,394.26 L219.67,395.90 L220.45,397.13 L221.23,398.03 L222.01,398.67 L222.79,399.12 L223.57,399.43 L224.36,399.65 L225.14,399.80 L225.92,399.90 L226.70,399.97 L227.48,400.02 L228.26,400.05 L229.04,400.08 L229.82,400.09 L230.60,400.10 L231.38,400.11 L232.16,400.11 L232.94,400.12 L233.72,400.12 L234.50,400.12 L235.28,400.12 L236.06,400.12 L236.84,400.12 L237.62,400.12 L238.40,400.12 L239.18,400.12 L239.96,400.12" stroke="#379a4a" stroke-width="1.35" fill="none" stroke-linejoin="round" stroke-linecap="butt"/>
<circle cx="177.53" cy="365.90" r="1.05" fill="#2a7a3c"/>
<circle cx="209.80" cy="365.90" r="1.05" fill="#2a7a3c"/>
<circle cx="214.01" cy="374.08" r="1.05" fill="#2a7a3c"/>
<circle cx="218.22" cy="391.94" r="1.05" fill="#2a7a3c"/>
<circle cx="222.43" cy="397.89" r="1.05" fill="#2a7a3c"/>
<circle cx="228.04" cy="399.38" r="1.05" fill="#2a7a3c"/>
<circle cx="233.65" cy="399.75" r="1.05" fill="#2a7a3c"/>
<circle cx="239.26" cy="400.12" r="1.05" fill="#2a7a3c"/>
<path d="M177.53,365.90 L178.31,365.90 L179.09,365.91 L179.87,365.91 L180.65,365.91 L181.43,365.91 L182.21,365.91 L182.99,365.91 L183.77,365.91 L184.55,365.91 L185.33,365.92 L186.11,365.92 L186.90,365.92 L187.68,365.93 L188.46,365.93 L189.24,365.93 L190.02,365.94 L190.80,365.95 L191.58,365.95 L192.36,365.96 L193.14,365.97 L193.92,365.98 L194.70,365.99 L195.48,366.01 L196.26,366.02 L197.04,366.04 L197.82,366.06 L198.60,366.09 L199.38,366.12 L200.16,366.15 L200.94,366.19 L201.72,366.23 L202.50,366.28 L203.28,366.33 L204.06,366.40 L204.84,366.47 L205.63,366.56 L206.41,366.65 L207.19,366.76 L207.97,366.89 L208.75,367.03 L209.53,367.20 L210.31,367.38 L211.09,367.60 L211.87,367.84 L212.65,368.11 L213.43,368.41 L214.21,368.76 L214.99,369.14 L215.77,369.57 L216.55,370.05 L217.33,370.58 L218.11,371.16 L218.89,371.80 L219.67,372.49 L220.45,373.24 L221.23,374.05 L222.01,374.91 L222.79,375.82 L223.57,376.77 L224.36,377.76 L225.14,378.78 L225.92,379.82 L226.70,380.86 L227.48,381.91 L228.26,382.94 L229.04,383.96 L229.82,384.94 L230.60,385.89 L231.38,386.79 L232.16,387.64 L232.94,388.44 L233.72,389.18 L234.50,389.87 L235.28,390.50 L236.06,391.07 L236.84,391.59 L237.62,392.06 L238.40,392.48 L239.18,392.86 L239.96,393.20" stroke="#a8223f" stroke-width="1.35" fill="none" stroke-linejoin="round" stroke-linecap="butt"/>
<circle cx="177.53" cy="370.74" r="1.05" fill="#7a1028"/>
<circle cx="205.59" cy="366.64" r="1.05" fill="#7a1028"/>
<circle cx="209.80" cy="368.50" r="1.05" fill="#7a1028"/>
<circle cx="219.62" cy="370.36" r="1.05" fill="#7a1028"/>
<circle cx="222.43" cy="375.20" r="1.05" fill="#7a1028"/>
<circle cx="229.44" cy="384.50" r="1.05" fill="#7a1028"/>
<circle cx="239.26" cy="393.06" r="1.05" fill="#7a1028"/>
<line x1="163.50" y1="344.50" x2="163.50" y2="403.60" stroke="#1e1e1e" stroke-width="1.1"/>
<line x1="163.00" y1="403.50" x2="248.08" y2="403.50" stroke="#1e1e1e" stroke-width="1.1"/>
<line x1="161.10" y1="403.50" x2="163.50" y2="403.50" stroke="#1e1e1e" stroke-width="0.9"/>
<text x="156.50" y="405.30" font-size="6.3" text-anchor="end" fill="#333" textLength="3.36" lengthAdjust="spacingAndGlyphs">0</text>
<line x1="161.10" y1="384.50" x2="163.50" y2="384.50" stroke="#1e1e1e" stroke-width="0.9"/>
<text x="156.50" y="386.70" font-size="6.3" text-anchor="end" fill="#333" textLength="6.73" lengthAdjust="spacingAndGlyphs">50</text>
<line x1="161.10" y1="365.50" x2="163.50" y2="365.50" stroke="#1e1e1e" stroke-width="0.9"/>
<text x="156.50" y="368.10" font-size="6.3" text-anchor="end" fill="#333" textLength="10.09" lengthAdjust="spacingAndGlyphs">100</text>
<line x1="161.10" y1="347.50" x2="163.50" y2="347.50" stroke="#1e1e1e" stroke-width="0.9"/>
<text x="156.50" y="349.50" font-size="6.3" text-anchor="end" fill="#333" textLength="10.09" lengthAdjust="spacingAndGlyphs">150</text>
<line x1="163.50" y1="403.10" x2="163.50" y2="405.30" stroke="#1e1e1e" stroke-width="0.9"/>
<line x1="177.50" y1="403.10" x2="177.50" y2="405.30" stroke="#1e1e1e" stroke-width="0.9"/>
<line x1="191.50" y1="403.10" x2="191.50" y2="405.30" stroke="#1e1e1e" stroke-width="0.9"/>
<line x1="205.50" y1="403.10" x2="205.50" y2="405.30" stroke="#1e1e1e" stroke-width="0.9"/>
<line x1="219.50" y1="403.10" x2="219.50" y2="405.30" stroke="#1e1e1e" stroke-width="0.9"/>
<line x1="233.50" y1="403.10" x2="233.50" y2="405.30" stroke="#1e1e1e" stroke-width="0.9"/>
<line x1="247.50" y1="403.10" x2="247.50" y2="405.30" stroke="#1e1e1e" stroke-width="0.9"/>
<text x="206.70" y="339.60" font-size="8.5" text-anchor="middle" fill="#2b2b2b">PDX4</text>
<text x="164.30" y="415.10" font-size="6.3" text-anchor="middle" fill="#333" textLength="9.50" lengthAdjust="spacingAndGlyphs">−11</text>
<text x="178.33" y="415.10" font-size="6.3" text-anchor="middle" fill="#333" textLength="9.94" lengthAdjust="spacingAndGlyphs">−10</text>
<text x="192.36" y="415.10" font-size="6.3" text-anchor="middle" fill="#333" textLength="6.68" lengthAdjust="spacingAndGlyphs">−9</text>
<text x="206.39" y="415.10" font-size="6.3" text-anchor="middle" fill="#333" textLength="6.68" lengthAdjust="spacingAndGlyphs">−8</text>
<text x="220.42" y="415.10" font-size="6.3" text-anchor="middle" fill="#333" textLength="6.68" lengthAdjust="spacingAndGlyphs">−7</text>
<text x="234.45" y="415.10" font-size="6.3" text-anchor="middle" fill="#333" textLength="6.68" lengthAdjust="spacingAndGlyphs">−6</text>
<text x="248.48" y="415.10" font-size="6.3" text-anchor="middle" fill="#333" textLength="6.68" lengthAdjust="spacingAndGlyphs">−5</text>
<text x="206.70" y="426.90" font-size="9.4" text-anchor="middle" fill="#333" textLength="66.00" lengthAdjust="spacingAndGlyphs">Concentration (log M)</text>
<line x1="100.30" y1="435.50" x2="110.00" y2="435.50" stroke="#a8223f" stroke-width="1.0"/>
<circle cx="105.20" cy="435.40" r="0.9" fill="#a8223f"/>
<text x="112.30" y="437.70" font-size="6.2" text-anchor="start" fill="#333">BRM014</text>
<line x1="147.00" y1="435.50" x2="155.70" y2="435.50" stroke="#379a4a" stroke-width="1.0"/>
<circle cx="151.30" cy="435.40" r="0.9" fill="#379a4a"/>
<text x="158.50" y="437.70" font-size="6.2" text-anchor="start" fill="#333">AU-15330</text>
<text x="382.00" y="321.80" font-size="8.5" text-anchor="middle" fill="#2b2b2b" textLength="23.40" lengthAdjust="spacingAndGlyphs">Jurkat</text>
<line x1="344.50" y1="326.50" x2="344.50" y2="404.00" stroke="#1e1e1e" stroke-width="1.1"/>
<line x1="343.80" y1="403.50" x2="417.70" y2="403.50" stroke="#1e1e1e" stroke-width="1.1"/>
<line x1="341.90" y1="403.50" x2="344.30" y2="403.50" stroke="#1e1e1e" stroke-width="0.9"/>
<text x="338.70" y="405.70" font-size="6.3" text-anchor="end" fill="#333" textLength="3.22" lengthAdjust="spacingAndGlyphs">0</text>
<line x1="341.90" y1="378.50" x2="344.30" y2="378.50" stroke="#1e1e1e" stroke-width="0.9"/>
<text x="338.70" y="380.80" font-size="6.3" text-anchor="end" fill="#333" textLength="3.22" lengthAdjust="spacingAndGlyphs">5</text>
<line x1="341.90" y1="353.50" x2="344.30" y2="353.50" stroke="#1e1e1e" stroke-width="0.9"/>
<text x="338.70" y="355.90" font-size="6.3" text-anchor="end" fill="#333" textLength="6.45" lengthAdjust="spacingAndGlyphs">10</text>
<line x1="341.90" y1="328.50" x2="344.30" y2="328.50" stroke="#1e1e1e" stroke-width="0.9"/>
<text x="338.70" y="331.00" font-size="6.3" text-anchor="end" fill="#333" textLength="6.45" lengthAdjust="spacingAndGlyphs">15</text>
<text transform="translate(326.8 364.8) rotate(-90)" font-size="7.6" text-anchor="middle" fill="#333" textLength="56.5" lengthAdjust="spacingAndGlyphs">% Annexin V<tspan font-size="4.5" dy="-2.5">+</tspan><tspan dy="2.5"> cells</tspan></text>
<line x1="356.50" y1="403.50" x2="356.50" y2="405.70" stroke="#1e1e1e" stroke-width="0.9"/>
<line x1="373.50" y1="403.50" x2="373.50" y2="405.70" stroke="#1e1e1e" stroke-width="0.9"/>
<line x1="390.50" y1="403.50" x2="390.50" y2="405.70" stroke="#1e1e1e" stroke-width="0.9"/>
<line x1="407.50" y1="403.50" x2="407.50" y2="405.70" stroke="#1e1e1e" stroke-width="0.9"/>
<line x1="356.50" y1="376.61" x2="356.50" y2="386.57" stroke="#2c4a66" stroke-width="1.0"/>
<line x1="353.60" y1="376.50" x2="359.20" y2="376.50" stroke="#2c4a66" stroke-width="1.0"/>
<line x1="353.60" y1="386.50" x2="359.20" y2="386.50" stroke="#2c4a66" stroke-width="1.0"/>
<line x1="350.80" y1="381.50" x2="362.00" y2="381.50" stroke="#2c4a66" stroke-width="1.2"/>
<polygon points="356.40,375.76 354.16,379.66 358.64,379.66" fill="#2f5d86"/>
<polygon points="356.40,387.91 354.16,384.01 358.64,384.01" fill="#2f5d86"/>
<circle cx="356.40" cy="381.59" r="1.95" fill="#2f5d86"/>
<line x1="373.50" y1="378.60" x2="373.50" y2="390.05" stroke="#262633" stroke-width="1.0"/>
<line x1="370.50" y1="378.50" x2="376.10" y2="378.50" stroke="#262633" stroke-width="1.0"/>
<line x1="370.50" y1="390.50" x2="376.10" y2="390.50" stroke="#262633" stroke-width="1.0"/>
<line x1="367.70" y1="384.50" x2="378.90" y2="384.50" stroke="#262633" stroke-width="1.2"/>
<polygon points="373.30,377.75 371.06,381.65 375.54,381.65" fill="#262633"/>
<rect x="375.35" y="384.12" width="3.90" height="3.90" fill="#262633"/>
<circle cx="369.30" cy="388.56" r="1.95" fill="#262633"/>
<line x1="390.50" y1="355.19" x2="390.50" y2="369.14" stroke="#262633" stroke-width="1.0"/>
<line x1="387.60" y1="355.50" x2="393.20" y2="355.50" stroke="#262633" stroke-width="1.0"/>
<line x1="387.60" y1="369.50" x2="393.20" y2="369.50" stroke="#262633" stroke-width="1.0"/>
<line x1="384.80" y1="362.50" x2="396.00" y2="362.50" stroke="#262633" stroke-width="1.2"/>
<circle cx="385.80" cy="357.19" r="1.95" fill="#b5143c"/>
<rect x="392.95" y="356.23" width="3.90" height="3.90" fill="#b5143c"/>
<polygon points="390.40,372.47 388.16,368.57 392.64,368.57" fill="#b5143c"/>
<text x="390.40" y="354.71" font-size="6" text-anchor="middle" fill="#333">*</text>
<line x1="407.50" y1="335.27" x2="407.50" y2="355.69" stroke="#262633" stroke-width="1.0"/>
<line x1="404.80" y1="335.50" x2="410.40" y2="335.50" stroke="#262633" stroke-width="1.0"/>
<line x1="404.80" y1="355.50" x2="410.40" y2="355.50" stroke="#262633" stroke-width="1.0"/>
<line x1="402.00" y1="345.50" x2="413.20" y2="345.50" stroke="#262633" stroke-width="1.2"/>
<polygon points="407.60,333.93 405.36,337.83 409.84,337.83" fill="#44a85a"/>
<circle cx="407.60" cy="351.71" r="1.95" fill="#44a85a"/>
<circle cx="407.60" cy="348.72" r="1.95" fill="#44a85a"/>
<text x="407.60" y="333.29" font-size="6" text-anchor="middle" fill="#333">**</text>
<text x="358.60" y="412.20" font-size="6.4" text-anchor="end" fill="#333" transform="rotate(-46 358.60 412.20)">gAAVS1</text>
<text x="375.40" y="412.20" font-size="6.4" text-anchor="end" fill="#333" transform="rotate(-46 375.40 412.20)">gSMARCA4</text>
<text x="392.40" y="412.20" font-size="6.4" text-anchor="end" fill="#333" transform="rotate(-46 392.40 412.20)">gSMARCA4/2</text>
<text x="409.60" y="412.20" font-size="6.4" text-anchor="end" fill="#333" transform="rotate(-46 409.60 412.20)">gARID1A/B</text>
<text x="74.80" y="481.00" font-size="8.5" text-anchor="middle" fill="#2b2b2b" textLength="23.60" lengthAdjust="spacingAndGlyphs">Jurkat</text>
<line x1="47.50" y1="485.90" x2="47.50" y2="582.80" stroke="#1e1e1e" stroke-width="1.1"/>
<line x1="46.90" y1="582.50" x2="102.50" y2="582.50" stroke="#1e1e1e" stroke-width="1.1"/>
<line x1="45.00" y1="582.50" x2="47.40" y2="582.50" stroke="#1e1e1e" stroke-width="0.9"/>
<text x="41.20" y="584.50" font-size="6.3" text-anchor="end" fill="#333" textLength="3.22" lengthAdjust="spacingAndGlyphs">0</text>
<line x1="45.00" y1="563.50" x2="47.40" y2="563.50" stroke="#1e1e1e" stroke-width="0.9"/>
<text x="41.20" y="565.72" font-size="6.3" text-anchor="end" fill="#333" textLength="3.22" lengthAdjust="spacingAndGlyphs">5</text>
<line x1="45.00" y1="544.50" x2="47.40" y2="544.50" stroke="#1e1e1e" stroke-width="0.9"/>
<text x="41.20" y="546.94" font-size="6.3" text-anchor="end" fill="#333" textLength="6.45" lengthAdjust="spacingAndGlyphs">10</text>
<line x1="45.00" y1="525.50" x2="47.40" y2="525.50" stroke="#1e1e1e" stroke-width="0.9"/>
<text x="41.20" y="528.16" font-size="6.3" text-anchor="end" fill="#333" textLength="6.45" lengthAdjust="spacingAndGlyphs">15</text>
<line x1="45.00" y1="507.50" x2="47.40" y2="507.50" stroke="#1e1e1e" stroke-width="0.9"/>
<text x="41.20" y="509.38" font-size="6.3" text-anchor="end" fill="#333" textLength="6.45" lengthAdjust="spacingAndGlyphs">20</text>
<line x1="45.00" y1="488.50" x2="47.40" y2="488.50" stroke="#1e1e1e" stroke-width="0.9"/>
<text x="41.20" y="490.60" font-size="6.3" text-anchor="end" fill="#333" textLength="6.45" lengthAdjust="spacingAndGlyphs">25</text>
<line x1="54.50" y1="582.30" x2="54.50" y2="584.50" stroke="#1e1e1e" stroke-width="0.9"/>
<line x1="54.50" y1="561.27" x2="54.50" y2="566.52" stroke="#2a3f5f" stroke-width="1.0"/>
<line x1="52.60" y1="561.50" x2="57.00" y2="561.50" stroke="#2a3f5f" stroke-width="1.0"/>
<line x1="52.60" y1="566.50" x2="57.00" y2="566.50" stroke="#2a3f5f" stroke-width="1.0"/>
<line x1="50.80" y1="564.50" x2="58.80" y2="564.50" stroke="#2a3f5f" stroke-width="1.1"/>
<circle cx="54.80" cy="559.76" r="1.45" fill="#1f3f6b"/>
<circle cx="52.80" cy="565.02" r="1.45" fill="#1f3f6b"/>
<circle cx="56.80" cy="565.02" r="1.45" fill="#1f3f6b"/>
<line x1="65.50" y1="582.30" x2="65.50" y2="584.50" stroke="#1e1e1e" stroke-width="0.9"/>
<line x1="65.50" y1="556.01" x2="65.50" y2="567.28" stroke="#262633" stroke-width="1.0"/>
<line x1="62.90" y1="556.50" x2="67.30" y2="556.50" stroke="#262633" stroke-width="1.0"/>
<line x1="62.90" y1="567.50" x2="67.30" y2="567.50" stroke="#262633" stroke-width="1.0"/>
<line x1="61.10" y1="561.50" x2="69.10" y2="561.50" stroke="#262633" stroke-width="1.1"/>
<circle cx="65.10" cy="554.88" r="1.45" fill="#4b2a5e"/>
<polygon points="63.10,564.03 61.43,566.93 64.77,566.93" fill="#4b2a5e"/>
<circle cx="67.10" cy="565.02" r="1.45" fill="#4b2a5e"/>
<line x1="75.50" y1="582.30" x2="75.50" y2="584.50" stroke="#1e1e1e" stroke-width="0.9"/>
<line x1="75.50" y1="520.33" x2="75.50" y2="550.37" stroke="#262633" stroke-width="1.0"/>
<line x1="73.20" y1="520.50" x2="77.60" y2="520.50" stroke="#262633" stroke-width="1.0"/>
<line x1="73.20" y1="550.50" x2="77.60" y2="550.50" stroke="#262633" stroke-width="1.0"/>
<line x1="71.40" y1="534.50" x2="79.40" y2="534.50" stroke="#262633" stroke-width="1.1"/>
<circle cx="75.40" cy="522.20" r="1.45" fill="#bf1e3c"/>
<circle cx="75.40" cy="527.84" r="1.45" fill="#bf1e3c"/>
<circle cx="75.40" cy="550.37" r="1.45" fill="#bf1e3c"/>
<text x="75.40" y="518.94" font-size="6.3" text-anchor="middle" fill="#333">*</text>
<line x1="85.50" y1="582.30" x2="85.50" y2="584.50" stroke="#1e1e1e" stroke-width="0.9"/>
<line x1="85.50" y1="556.76" x2="85.50" y2="565.40" stroke="#262633" stroke-width="1.0"/>
<line x1="83.50" y1="556.50" x2="87.90" y2="556.50" stroke="#262633" stroke-width="1.0"/>
<line x1="83.50" y1="565.50" x2="87.90" y2="565.50" stroke="#262633" stroke-width="1.0"/>
<line x1="81.70" y1="561.50" x2="89.70" y2="561.50" stroke="#262633" stroke-width="1.1"/>
<polygon points="85.70,558.50 84.03,555.60 87.37,555.60" fill="#5cb85c"/>
<circle cx="83.70" cy="563.52" r="1.45" fill="#5cb85c"/>
<circle cx="87.70" cy="563.52" r="1.45" fill="#5cb85c"/>
<line x1="96.50" y1="582.30" x2="96.50" y2="584.50" stroke="#1e1e1e" stroke-width="0.9"/>
<line x1="96.50" y1="501.55" x2="96.50" y2="533.47" stroke="#262633" stroke-width="1.0"/>
<line x1="93.80" y1="501.50" x2="98.20" y2="501.50" stroke="#262633" stroke-width="1.0"/>
<line x1="93.80" y1="533.50" x2="98.20" y2="533.50" stroke="#262633" stroke-width="1.0"/>
<line x1="92.00" y1="517.50" x2="100.00" y2="517.50" stroke="#262633" stroke-width="1.1"/>
<circle cx="94.00" cy="507.18" r="1.45" fill="#1d6b4e"/>
<circle cx="98.00" cy="508.31" r="1.45" fill="#1d6b4e"/>
<circle cx="96.00" cy="535.35" r="1.45" fill="#1d6b4e"/>
<text x="96.00" y="500.91" font-size="6.3" text-anchor="middle" fill="#333">**</text>
<text transform="translate(29.6 533.7) rotate(-90)" font-size="7.4" text-anchor="middle" fill="#333" textLength="56" lengthAdjust="spacingAndGlyphs">% Annexin V<tspan font-size="4.5" dy="-2.5">+</tspan><tspan dy="2.5"> cells</tspan></text>
<text x="152.20" y="481.00" font-size="8.5" text-anchor="middle" fill="#2b2b2b">KOPT-K1</text>
<line x1="125.50" y1="485.90" x2="125.50" y2="582.80" stroke="#1e1e1e" stroke-width="1.1"/>
<line x1="124.80" y1="582.50" x2="179.90" y2="582.50" stroke="#1e1e1e" stroke-width="1.1"/>
<line x1="122.90" y1="582.50" x2="125.30" y2="582.50" stroke="#1e1e1e" stroke-width="0.9"/>
<text x="119.10" y="584.50" font-size="6.3" text-anchor="end" fill="#333" textLength="3.22" lengthAdjust="spacingAndGlyphs">0</text>
<line x1="122.90" y1="551.50" x2="125.30" y2="551.50" stroke="#1e1e1e" stroke-width="0.9"/>
<text x="119.10" y="553.20" font-size="6.3" text-anchor="end" fill="#333" textLength="6.45" lengthAdjust="spacingAndGlyphs">10</text>
<line x1="122.90" y1="519.50" x2="125.30" y2="519.50" stroke="#1e1e1e" stroke-width="0.9"/>
<text x="119.10" y="521.90" font-size="6.3" text-anchor="end" fill="#333" textLength="6.45" lengthAdjust="spacingAndGlyphs">20</text>
<line x1="122.90" y1="488.50" x2="125.30" y2="488.50" stroke="#1e1e1e" stroke-width="0.9"/>
<text x="119.10" y="490.60" font-size="6.3" text-anchor="end" fill="#333" textLength="6.45" lengthAdjust="spacingAndGlyphs">30</text>
<line x1="132.50" y1="582.30" x2="132.50" y2="584.50" stroke="#1e1e1e" stroke-width="0.9"/>
<line x1="132.50" y1="547.87" x2="132.50" y2="571.34" stroke="#2a3f5f" stroke-width="1.0"/>
<line x1="130.00" y1="547.50" x2="134.40" y2="547.50" stroke="#2a3f5f" stroke-width="1.0"/>
<line x1="130.00" y1="571.50" x2="134.40" y2="571.50" stroke="#2a3f5f" stroke-width="1.0"/>
<line x1="128.20" y1="560.50" x2="136.20" y2="560.50" stroke="#2a3f5f" stroke-width="1.1"/>
<circle cx="132.20" cy="547.87" r="1.45" fill="#1f3f6b"/>
<circle cx="132.20" cy="559.76" r="1.45" fill="#1f3f6b"/>
<polygon points="132.20,569.60 130.53,572.50 133.87,572.50" fill="#1f3f6b"/>
<line x1="142.50" y1="582.30" x2="142.50" y2="584.50" stroke="#1e1e1e" stroke-width="0.9"/>
<line x1="142.50" y1="563.52" x2="142.50" y2="569.78" stroke="#262633" stroke-width="1.0"/>
<line x1="140.30" y1="563.50" x2="144.70" y2="563.50" stroke="#262633" stroke-width="1.0"/>
<line x1="140.30" y1="569.50" x2="144.70" y2="569.50" stroke="#262633" stroke-width="1.0"/>
<line x1="138.50" y1="566.50" x2="146.50" y2="566.50" stroke="#262633" stroke-width="1.1"/>
<circle cx="141.00" cy="564.46" r="1.45" fill="#4b2a5e"/>
<circle cx="144.00" cy="565.40" r="1.45" fill="#4b2a5e"/>
<polygon points="142.50,572.15 140.83,569.25 144.17,569.25" fill="#4b2a5e"/>
<line x1="152.50" y1="582.30" x2="152.50" y2="584.50" stroke="#1e1e1e" stroke-width="0.9"/>
<line x1="152.50" y1="540.04" x2="152.50" y2="558.82" stroke="#262633" stroke-width="1.0"/>
<line x1="150.60" y1="540.50" x2="155.00" y2="540.50" stroke="#262633" stroke-width="1.0"/>
<line x1="150.60" y1="558.50" x2="155.00" y2="558.50" stroke="#262633" stroke-width="1.0"/>
<line x1="148.80" y1="549.50" x2="156.80" y2="549.50" stroke="#262633" stroke-width="1.1"/>
<circle cx="152.80" cy="538.48" r="1.45" fill="#bf1e3c"/>
<circle cx="152.80" cy="554.13" r="1.45" fill="#bf1e3c"/>
<circle cx="152.80" cy="558.82" r="1.45" fill="#bf1e3c"/>
<line x1="163.50" y1="582.30" x2="163.50" y2="584.50" stroke="#1e1e1e" stroke-width="0.9"/>
<line x1="163.50" y1="556.32" x2="163.50" y2="569.78" stroke="#262633" stroke-width="1.0"/>
<line x1="160.90" y1="556.50" x2="165.30" y2="556.50" stroke="#262633" stroke-width="1.0"/>
<line x1="160.90" y1="569.50" x2="165.30" y2="569.50" stroke="#262633" stroke-width="1.0"/>
<line x1="159.10" y1="562.50" x2="167.10" y2="562.50" stroke="#262633" stroke-width="1.1"/>
<polygon points="163.10,558.06 161.43,555.16 164.77,555.16" fill="#5cb85c"/>
<polygon points="163.10,567.10 161.43,570.00 164.77,570.00" fill="#5cb85c"/>
<circle cx="163.10" cy="563.52" r="1.45" fill="#5cb85c"/>
<line x1="173.50" y1="582.30" x2="173.50" y2="584.50" stroke="#1e1e1e" stroke-width="0.9"/>
<line x1="173.50" y1="497.79" x2="173.50" y2="530.65" stroke="#262633" stroke-width="1.0"/>
<line x1="171.20" y1="497.50" x2="175.60" y2="497.50" stroke="#262633" stroke-width="1.0"/>
<line x1="171.20" y1="530.50" x2="175.60" y2="530.50" stroke="#262633" stroke-width="1.0"/>
<line x1="169.40" y1="513.50" x2="177.40" y2="513.50" stroke="#262633" stroke-width="1.1"/>
<circle cx="171.90" cy="502.48" r="1.45" fill="#1d6b4e"/>
<circle cx="174.90" cy="505.61" r="1.45" fill="#1d6b4e"/>
<circle cx="173.40" cy="532.22" r="1.45" fill="#1d6b4e"/>
<text x="173.40" y="496.59" font-size="6.3" text-anchor="middle" fill="#333">*</text>
<text x="233.80" y="481.00" font-size="8.5" text-anchor="middle" fill="#2b2b2b">CCRF-CEM</text>
<line x1="206.50" y1="485.90" x2="206.50" y2="582.80" stroke="#1e1e1e" stroke-width="1.1"/>
<line x1="206.30" y1="582.50" x2="260.50" y2="582.50" stroke="#1e1e1e" stroke-width="1.1"/>
<line x1="204.40" y1="582.50" x2="206.80" y2="582.50" stroke="#1e1e1e" stroke-width="0.9"/>
<text x="200.60" y="584.50" font-size="6.3" text-anchor="end" fill="#333" textLength="3.22" lengthAdjust="spacingAndGlyphs">0</text>
<line x1="204.40" y1="563.50" x2="206.80" y2="563.50" stroke="#1e1e1e" stroke-width="0.9"/>
<text x="200.60" y="565.72" font-size="6.3" text-anchor="end" fill="#333" textLength="6.45" lengthAdjust="spacingAndGlyphs">20</text>
<line x1="204.40" y1="544.50" x2="206.80" y2="544.50" stroke="#1e1e1e" stroke-width="0.9"/>
<text x="200.60" y="546.94" font-size="6.3" text-anchor="end" fill="#333" textLength="6.45" lengthAdjust="spacingAndGlyphs">40</text>
<line x1="204.40" y1="525.50" x2="206.80" y2="525.50" stroke="#1e1e1e" stroke-width="0.9"/>
<text x="200.60" y="528.16" font-size="6.3" text-anchor="end" fill="#333" textLength="6.45" lengthAdjust="spacingAndGlyphs">60</text>
<line x1="204.40" y1="507.50" x2="206.80" y2="507.50" stroke="#1e1e1e" stroke-width="0.9"/>
<text x="200.60" y="509.38" font-size="6.3" text-anchor="end" fill="#333" textLength="6.45" lengthAdjust="spacingAndGlyphs">80</text>
<line x1="204.40" y1="488.50" x2="206.80" y2="488.50" stroke="#1e1e1e" stroke-width="0.9"/>
<text x="200.60" y="490.60" font-size="6.3" text-anchor="end" fill="#333" textLength="9.67" lengthAdjust="spacingAndGlyphs">100</text>
<line x1="212.50" y1="582.30" x2="212.50" y2="584.50" stroke="#1e1e1e" stroke-width="0.9"/>
<line x1="212.50" y1="573.85" x2="212.50" y2="576.20" stroke="#2a3f5f" stroke-width="1.0"/>
<line x1="210.60" y1="573.50" x2="215.00" y2="573.50" stroke="#2a3f5f" stroke-width="1.0"/>
<line x1="210.60" y1="576.50" x2="215.00" y2="576.50" stroke="#2a3f5f" stroke-width="1.0"/>
<line x1="208.80" y1="574.50" x2="216.80" y2="574.50" stroke="#2a3f5f" stroke-width="1.1"/>
<circle cx="211.80" cy="573.85" r="1.45" fill="#1f3f6b"/>
<circle cx="213.80" cy="575.26" r="1.45" fill="#1f3f6b"/>
<circle cx="212.80" cy="575.73" r="1.45" fill="#1f3f6b"/>
<line x1="223.50" y1="582.30" x2="223.50" y2="584.50" stroke="#1e1e1e" stroke-width="0.9"/>
<line x1="223.50" y1="562.58" x2="223.50" y2="571.97" stroke="#262633" stroke-width="1.0"/>
<line x1="220.90" y1="562.50" x2="225.30" y2="562.50" stroke="#262633" stroke-width="1.0"/>
<line x1="220.90" y1="571.50" x2="225.30" y2="571.50" stroke="#262633" stroke-width="1.0"/>
<line x1="219.10" y1="567.50" x2="227.10" y2="567.50" stroke="#262633" stroke-width="1.1"/>
<circle cx="223.10" cy="561.17" r="1.45" fill="#4b2a5e"/>
<circle cx="221.60" cy="571.03" r="1.45" fill="#4b2a5e"/>
<circle cx="224.60" cy="571.97" r="1.45" fill="#4b2a5e"/>
<line x1="233.50" y1="582.30" x2="233.50" y2="584.50" stroke="#1e1e1e" stroke-width="0.9"/>
<line x1="233.50" y1="513.75" x2="233.50" y2="527.84" stroke="#262633" stroke-width="1.0"/>
<line x1="231.20" y1="513.50" x2="235.60" y2="513.50" stroke="#262633" stroke-width="1.0"/>
<line x1="231.20" y1="527.50" x2="235.60" y2="527.50" stroke="#262633" stroke-width="1.0"/>
<line x1="229.40" y1="521.50" x2="237.40" y2="521.50" stroke="#262633" stroke-width="1.1"/>
<circle cx="233.40" cy="512.81" r="1.45" fill="#bf1e3c"/>
<polygon points="233.40,521.40 231.73,524.30 235.07,524.30" fill="#bf1e3c"/>
<polygon points="233.40,524.22 231.73,527.12 235.07,527.12" fill="#bf1e3c"/>
<text x="233.40" y="513.03" font-size="6.3" text-anchor="middle" fill="#333">***</text>
<line x1="243.50" y1="582.30" x2="243.50" y2="584.50" stroke="#1e1e1e" stroke-width="0.9"/>
<line x1="243.50" y1="509.06" x2="243.50" y2="522.20" stroke="#262633" stroke-width="1.0"/>
<line x1="241.50" y1="509.50" x2="245.90" y2="509.50" stroke="#262633" stroke-width="1.0"/>
<line x1="241.50" y1="522.50" x2="245.90" y2="522.50" stroke="#262633" stroke-width="1.0"/>
<line x1="239.70" y1="515.50" x2="247.70" y2="515.50" stroke="#262633" stroke-width="1.1"/>
<circle cx="243.70" cy="508.12" r="1.45" fill="#5cb85c"/>
<polygon points="243.70,516.71 242.03,519.61 245.37,519.61" fill="#5cb85c"/>
<circle cx="243.70" cy="521.26" r="1.45" fill="#5cb85c"/>
<text x="243.70" y="507.39" font-size="6.3" text-anchor="middle" fill="#333">***</text>
<line x1="254.50" y1="582.30" x2="254.50" y2="584.50" stroke="#1e1e1e" stroke-width="0.9"/>
<line x1="254.50" y1="496.85" x2="254.50" y2="500.61" stroke="#262633" stroke-width="1.0"/>
<line x1="251.80" y1="496.50" x2="256.20" y2="496.50" stroke="#262633" stroke-width="1.0"/>
<line x1="251.80" y1="500.50" x2="256.20" y2="500.50" stroke="#262633" stroke-width="1.0"/>
<line x1="250.00" y1="499.50" x2="258.00" y2="499.50" stroke="#262633" stroke-width="1.1"/>
<circle cx="252.50" cy="497.79" r="1.45" fill="#1d6b4e"/>
<circle cx="255.50" cy="499.67" r="1.45" fill="#1d6b4e"/>
<circle cx="254.00" cy="500.61" r="1.45" fill="#1d6b4e"/>
<text x="254.00" y="497.06" font-size="6.3" text-anchor="middle" fill="#333">***</text>
<text x="311.30" y="481.00" font-size="8.5" text-anchor="middle" fill="#2b2b2b">TALL-1</text>
<line x1="283.50" y1="485.90" x2="283.50" y2="582.80" stroke="#1e1e1e" stroke-width="1.1"/>
<line x1="283.10" y1="582.50" x2="338.20" y2="582.50" stroke="#1e1e1e" stroke-width="1.1"/>
<line x1="281.20" y1="582.50" x2="283.60" y2="582.50" stroke="#1e1e1e" stroke-width="0.9"/>
<text x="277.40" y="584.50" font-size="6.3" text-anchor="end" fill="#333" textLength="3.22" lengthAdjust="spacingAndGlyphs">0</text>
<line x1="281.20" y1="563.50" x2="283.60" y2="563.50" stroke="#1e1e1e" stroke-width="0.9"/>
<text x="277.40" y="565.72" font-size="6.3" text-anchor="end" fill="#333" textLength="6.45" lengthAdjust="spacingAndGlyphs">10</text>
<line x1="281.20" y1="544.50" x2="283.60" y2="544.50" stroke="#1e1e1e" stroke-width="0.9"/>
<text x="277.40" y="546.94" font-size="6.3" text-anchor="end" fill="#333" textLength="6.45" lengthAdjust="spacingAndGlyphs">20</text>
<line x1="281.20" y1="525.50" x2="283.60" y2="525.50" stroke="#1e1e1e" stroke-width="0.9"/>
<text x="277.40" y="528.16" font-size="6.3" text-anchor="end" fill="#333" textLength="6.45" lengthAdjust="spacingAndGlyphs">30</text>
<line x1="281.20" y1="507.50" x2="283.60" y2="507.50" stroke="#1e1e1e" stroke-width="0.9"/>
<text x="277.40" y="509.38" font-size="6.3" text-anchor="end" fill="#333" textLength="6.45" lengthAdjust="spacingAndGlyphs">40</text>
<line x1="281.20" y1="488.50" x2="283.60" y2="488.50" stroke="#1e1e1e" stroke-width="0.9"/>
<text x="277.40" y="490.60" font-size="6.3" text-anchor="end" fill="#333" textLength="6.45" lengthAdjust="spacingAndGlyphs">50</text>
<line x1="290.50" y1="582.30" x2="290.50" y2="584.50" stroke="#1e1e1e" stroke-width="0.9"/>
<line x1="290.50" y1="573.85" x2="290.50" y2="579.48" stroke="#2a3f5f" stroke-width="1.0"/>
<line x1="288.30" y1="573.50" x2="292.70" y2="573.50" stroke="#2a3f5f" stroke-width="1.0"/>
<line x1="288.30" y1="579.50" x2="292.70" y2="579.50" stroke="#2a3f5f" stroke-width="1.0"/>
<line x1="286.50" y1="576.50" x2="294.50" y2="576.50" stroke="#2a3f5f" stroke-width="1.1"/>
<circle cx="290.50" cy="573.85" r="1.45" fill="#1f3f6b"/>
<circle cx="289.00" cy="577.60" r="1.45" fill="#1f3f6b"/>
<circle cx="292.00" cy="578.54" r="1.45" fill="#1f3f6b"/>
<line x1="300.50" y1="582.30" x2="300.50" y2="584.50" stroke="#1e1e1e" stroke-width="0.9"/>
<line x1="300.50" y1="570.09" x2="300.50" y2="576.67" stroke="#262633" stroke-width="1.0"/>
<line x1="298.60" y1="570.50" x2="303.00" y2="570.50" stroke="#262633" stroke-width="1.0"/>
<line x1="298.60" y1="576.50" x2="303.00" y2="576.50" stroke="#262633" stroke-width="1.0"/>
<line x1="296.80" y1="572.50" x2="304.80" y2="572.50" stroke="#262633" stroke-width="1.1"/>
<circle cx="299.30" cy="570.09" r="1.45" fill="#4b2a5e"/>
<circle cx="302.30" cy="571.97" r="1.45" fill="#4b2a5e"/>
<circle cx="300.80" cy="576.67" r="1.45" fill="#4b2a5e"/>
<line x1="311.50" y1="582.30" x2="311.50" y2="584.50" stroke="#1e1e1e" stroke-width="0.9"/>
<line x1="311.50" y1="506.24" x2="311.50" y2="529.72" stroke="#262633" stroke-width="1.0"/>
<line x1="308.90" y1="506.50" x2="313.30" y2="506.50" stroke="#262633" stroke-width="1.0"/>
<line x1="308.90" y1="529.50" x2="313.30" y2="529.50" stroke="#262633" stroke-width="1.0"/>
<line x1="307.10" y1="517.50" x2="315.10" y2="517.50" stroke="#262633" stroke-width="1.1"/>
<circle cx="311.10" cy="510.00" r="1.45" fill="#bf1e3c"/>
<circle cx="312.60" cy="512.81" r="1.45" fill="#bf1e3c"/>
<circle cx="311.10" cy="530.65" r="1.45" fill="#bf1e3c"/>
<text x="311.10" y="505.98" font-size="6.3" text-anchor="middle" fill="#333">***</text>
<line x1="321.50" y1="582.30" x2="321.50" y2="584.50" stroke="#1e1e1e" stroke-width="0.9"/>
<line x1="321.50" y1="571.97" x2="321.50" y2="574.79" stroke="#262633" stroke-width="1.0"/>
<line x1="319.20" y1="571.50" x2="323.60" y2="571.50" stroke="#262633" stroke-width="1.0"/>
<line x1="319.20" y1="574.50" x2="323.60" y2="574.50" stroke="#262633" stroke-width="1.0"/>
<line x1="317.40" y1="572.50" x2="325.40" y2="572.50" stroke="#262633" stroke-width="1.1"/>
<circle cx="319.90" cy="571.97" r="1.45" fill="#5cb85c"/>
<circle cx="322.90" cy="572.53" r="1.45" fill="#5cb85c"/>
<polygon points="321.40,576.53 319.73,573.63 323.07,573.63" fill="#5cb85c"/>
<line x1="331.50" y1="582.30" x2="331.50" y2="584.50" stroke="#1e1e1e" stroke-width="0.9"/>
<line x1="331.50" y1="524.08" x2="331.50" y2="525.96" stroke="#262633" stroke-width="1.0"/>
<line x1="329.50" y1="524.50" x2="333.90" y2="524.50" stroke="#262633" stroke-width="1.0"/>
<line x1="329.50" y1="525.50" x2="333.90" y2="525.50" stroke="#262633" stroke-width="1.0"/>
<line x1="327.70" y1="525.50" x2="335.70" y2="525.50" stroke="#262633" stroke-width="1.1"/>
<circle cx="330.20" cy="525.40" r="1.45" fill="#1d6b4e"/>
<circle cx="333.20" cy="524.46" r="1.45" fill="#1d6b4e"/>
<circle cx="331.70" cy="525.02" r="1.45" fill="#1d6b4e"/>
<text x="331.70" y="522.89" font-size="6.3" text-anchor="middle" fill="#333">***</text>
<text x="385.30" y="481.00" font-size="8.5" text-anchor="middle" fill="#2b2b2b">HPB-ALL</text>
<line x1="357.50" y1="485.90" x2="357.50" y2="582.80" stroke="#1e1e1e" stroke-width="1.1"/>
<line x1="357.10" y1="582.50" x2="412.40" y2="582.50" stroke="#1e1e1e" stroke-width="1.1"/>
<line x1="355.20" y1="582.50" x2="357.60" y2="582.50" stroke="#1e1e1e" stroke-width="0.9"/>
<text x="351.40" y="584.50" font-size="6.3" text-anchor="end" fill="#333" textLength="3.22" lengthAdjust="spacingAndGlyphs">0</text>
<line x1="355.20" y1="551.50" x2="357.60" y2="551.50" stroke="#1e1e1e" stroke-width="0.9"/>
<text x="351.40" y="553.20" font-size="6.3" text-anchor="end" fill="#333" textLength="3.22" lengthAdjust="spacingAndGlyphs">2</text>
<line x1="355.20" y1="519.50" x2="357.60" y2="519.50" stroke="#1e1e1e" stroke-width="0.9"/>
<text x="351.40" y="521.90" font-size="6.3" text-anchor="end" fill="#333" textLength="3.22" lengthAdjust="spacingAndGlyphs">4</text>
<line x1="355.20" y1="488.50" x2="357.60" y2="488.50" stroke="#1e1e1e" stroke-width="0.9"/>
<text x="351.40" y="490.60" font-size="6.3" text-anchor="end" fill="#333" textLength="3.22" lengthAdjust="spacingAndGlyphs">6</text>
<line x1="364.50" y1="582.30" x2="364.50" y2="584.50" stroke="#1e1e1e" stroke-width="0.9"/>
<line x1="364.50" y1="550.22" x2="364.50" y2="552.88" stroke="#2a3f5f" stroke-width="1.0"/>
<line x1="362.50" y1="550.50" x2="366.90" y2="550.50" stroke="#2a3f5f" stroke-width="1.0"/>
<line x1="362.50" y1="552.50" x2="366.90" y2="552.50" stroke="#2a3f5f" stroke-width="1.0"/>
<line x1="360.70" y1="551.50" x2="368.70" y2="551.50" stroke="#2a3f5f" stroke-width="1.1"/>
<circle cx="363.20" cy="550.22" r="1.45" fill="#1f3f6b"/>
<circle cx="366.20" cy="552.25" r="1.45" fill="#1f3f6b"/>
<circle cx="364.70" cy="552.56" r="1.45" fill="#1f3f6b"/>
<line x1="375.50" y1="582.30" x2="375.50" y2="584.50" stroke="#1e1e1e" stroke-width="0.9"/>
<line x1="375.50" y1="541.61" x2="375.50" y2="546.30" stroke="#262633" stroke-width="1.0"/>
<line x1="372.80" y1="541.50" x2="377.20" y2="541.50" stroke="#262633" stroke-width="1.0"/>
<line x1="372.80" y1="546.50" x2="377.20" y2="546.50" stroke="#262633" stroke-width="1.0"/>
<line x1="371.00" y1="543.50" x2="379.00" y2="543.50" stroke="#262633" stroke-width="1.1"/>
<circle cx="375.00" cy="538.48" r="1.45" fill="#4b2a5e"/>
<circle cx="373.50" cy="544.74" r="1.45" fill="#4b2a5e"/>
<circle cx="376.50" cy="544.74" r="1.45" fill="#4b2a5e"/>
<text x="375.00" y="538.85" font-size="6.3" text-anchor="middle" fill="#333">*</text>
<line x1="385.50" y1="582.30" x2="385.50" y2="584.50" stroke="#1e1e1e" stroke-width="0.9"/>
<line x1="385.50" y1="507.18" x2="385.50" y2="529.87" stroke="#262633" stroke-width="1.0"/>
<line x1="383.10" y1="507.50" x2="387.50" y2="507.50" stroke="#262633" stroke-width="1.0"/>
<line x1="383.10" y1="529.50" x2="387.50" y2="529.50" stroke="#262633" stroke-width="1.0"/>
<line x1="381.30" y1="518.50" x2="389.30" y2="518.50" stroke="#262633" stroke-width="1.1"/>
<circle cx="385.30" cy="506.40" r="1.45" fill="#bf1e3c"/>
<circle cx="385.30" cy="521.26" r="1.45" fill="#bf1e3c"/>
<circle cx="385.30" cy="529.09" r="1.45" fill="#bf1e3c"/>
<text x="385.30" y="504.42" font-size="6.3" text-anchor="middle" fill="#333">**</text>
<line x1="395.50" y1="582.30" x2="395.50" y2="584.50" stroke="#1e1e1e" stroke-width="0.9"/>
<line x1="395.50" y1="506.40" x2="395.50" y2="547.09" stroke="#262633" stroke-width="1.0"/>
<line x1="393.40" y1="506.50" x2="397.80" y2="506.50" stroke="#262633" stroke-width="1.0"/>
<line x1="393.40" y1="547.50" x2="397.80" y2="547.50" stroke="#262633" stroke-width="1.0"/>
<line x1="391.60" y1="527.50" x2="399.60" y2="527.50" stroke="#262633" stroke-width="1.1"/>
<polygon points="395.60,504.66 393.93,507.56 397.27,507.56" fill="#5cb85c"/>
<polygon points="395.60,530.48 393.93,533.38 397.27,533.38" fill="#5cb85c"/>
<polygon points="395.60,543.00 393.93,545.90 397.27,545.90" fill="#5cb85c"/>
<line x1="405.50" y1="582.30" x2="405.50" y2="584.50" stroke="#1e1e1e" stroke-width="0.9"/>
<line x1="405.50" y1="514.22" x2="405.50" y2="516.57" stroke="#262633" stroke-width="1.0"/>
<line x1="403.70" y1="514.50" x2="408.10" y2="514.50" stroke="#262633" stroke-width="1.0"/>
<line x1="403.70" y1="516.50" x2="408.10" y2="516.50" stroke="#262633" stroke-width="1.0"/>
<line x1="401.90" y1="515.50" x2="409.90" y2="515.50" stroke="#262633" stroke-width="1.1"/>
<circle cx="404.40" cy="515.00" r="1.45" fill="#1d6b4e"/>
<circle cx="407.40" cy="515.79" r="1.45" fill="#1d6b4e"/>
<circle cx="405.90" cy="519.70" r="1.45" fill="#1d6b4e"/>
<text x="405.90" y="513.81" font-size="6.3" text-anchor="middle" fill="#333">***</text>
<circle cx="435.00" cy="507.70" r="1.5" fill="#1f3f6b"/>
<text x="440.20" y="509.90" font-size="6.45" text-anchor="start" fill="#333">DMSO</text>
<circle cx="435.00" cy="520.40" r="1.5" fill="#4b2a5e"/>
<text x="440.20" y="522.60" font-size="6.45" text-anchor="start" fill="#333">BRM014 100nM</text>
<circle cx="435.00" cy="533.50" r="1.5" fill="#bf1e3c"/>
<text x="440.20" y="535.70" font-size="6.45" text-anchor="start" fill="#333">BRM014 1μM</text>
<circle cx="435.00" cy="546.70" r="1.5" fill="#5cb85c"/>
<text x="440.20" y="548.90" font-size="6.45" text-anchor="start" fill="#333">AU-15330 100nM</text>
<circle cx="435.00" cy="559.60" r="1.5" fill="#1d6b4e"/>
<text x="440.20" y="561.80" font-size="6.45" text-anchor="start" fill="#333">AU-15330 1μM</text>
</svg><div id="b"></div></div></body></html>
